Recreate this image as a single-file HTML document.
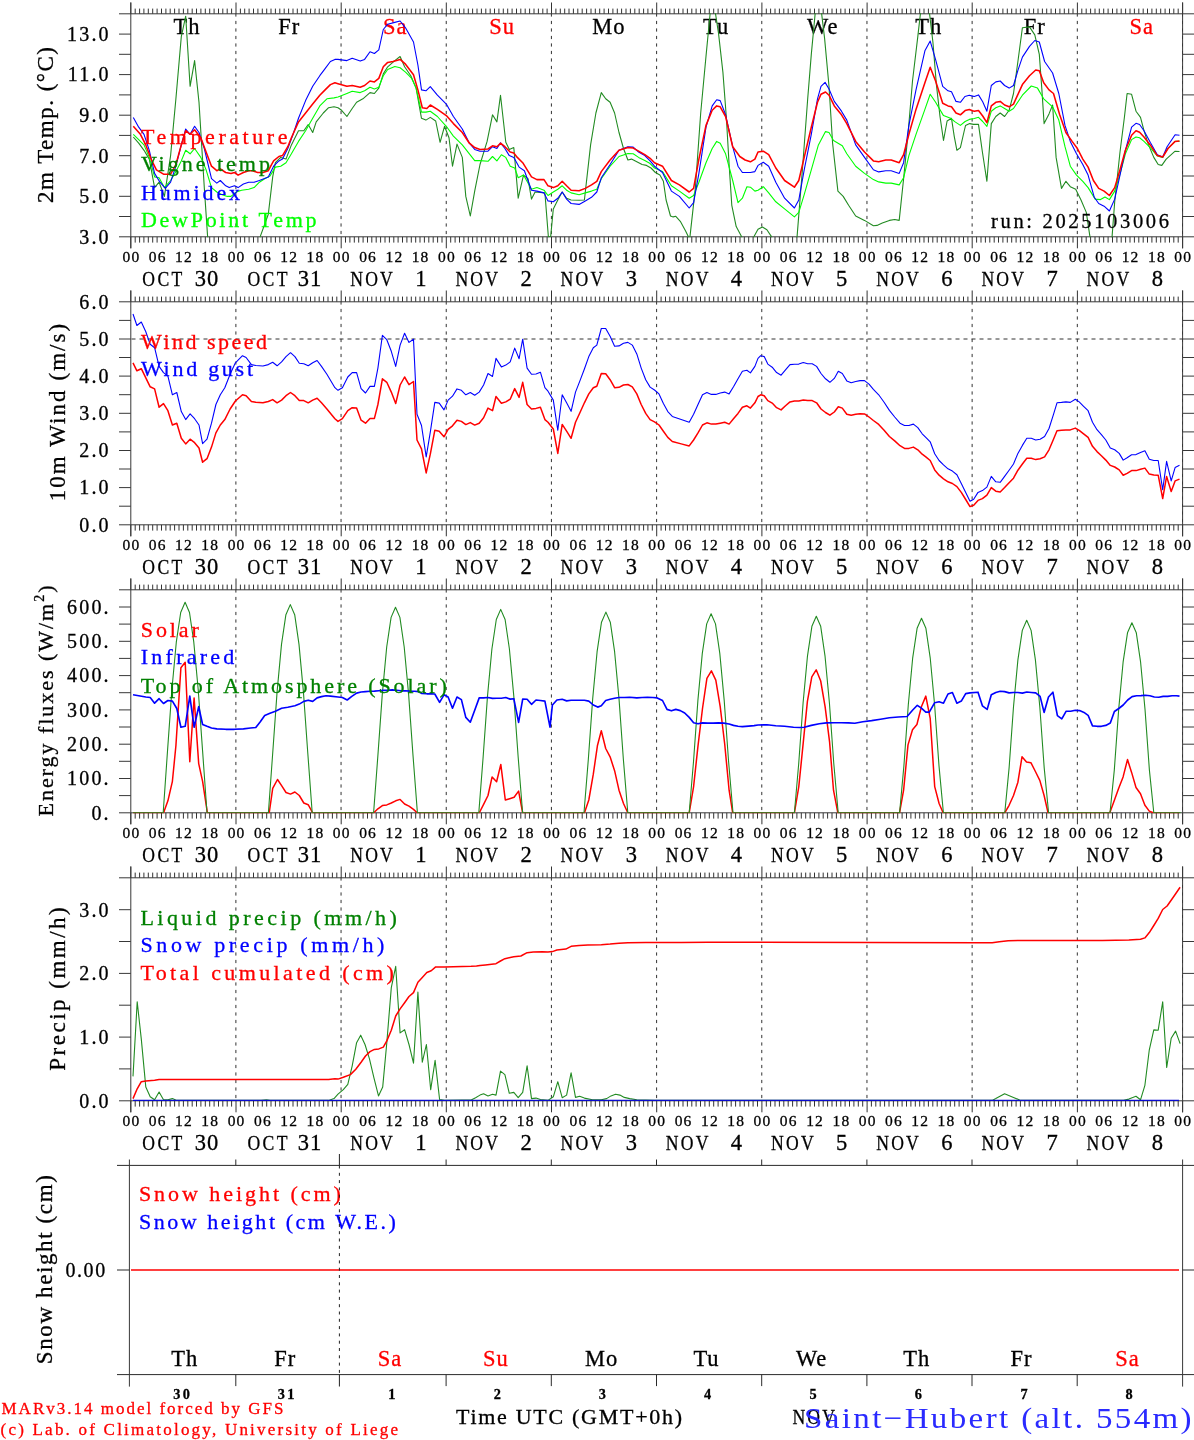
<!DOCTYPE html><html><head><meta charset="utf-8"><style>html,body{margin:0;padding:0;background:#fff;}svg{display:block;}text{font-family:'Liberation Serif', 'DejaVu Serif', serif;white-space:pre;stroke-width:0.3px;paint-order:stroke;}</style></head><body>
<svg width="1194" height="1440" viewBox="0 0 1194 1440">
<rect width="1194" height="1440" fill="#fff"/>
<defs>
<clipPath id="c0"><rect x="130.5" y="13.3" width="1052.0" height="224.0"/></clipPath>
<clipPath id="c1"><rect x="130.5" y="301.3" width="1052.0" height="224.0"/></clipPath>
<clipPath id="c2"><rect x="130.5" y="589.3" width="1052.0" height="224.0"/></clipPath>
<clipPath id="c3"><rect x="130.5" y="877.3" width="1052.0" height="224.0"/></clipPath>
</defs>
<line x1="235.88" y1="13.4" x2="235.88" y2="236.8" stroke="#333" stroke-width="1" stroke-dasharray="3.2 4.3"/>
<line x1="341.06" y1="13.4" x2="341.06" y2="236.8" stroke="#333" stroke-width="1" stroke-dasharray="3.2 4.3"/>
<line x1="446.24" y1="13.4" x2="446.24" y2="236.8" stroke="#333" stroke-width="1" stroke-dasharray="3.2 4.3"/>
<line x1="551.42" y1="13.4" x2="551.42" y2="236.8" stroke="#333" stroke-width="1" stroke-dasharray="3.2 4.3"/>
<line x1="656.60" y1="13.4" x2="656.60" y2="236.8" stroke="#333" stroke-width="1" stroke-dasharray="3.2 4.3"/>
<line x1="761.78" y1="13.4" x2="761.78" y2="236.8" stroke="#333" stroke-width="1" stroke-dasharray="3.2 4.3"/>
<line x1="866.96" y1="13.4" x2="866.96" y2="236.8" stroke="#333" stroke-width="1" stroke-dasharray="3.2 4.3"/>
<line x1="972.14" y1="13.4" x2="972.14" y2="236.8" stroke="#333" stroke-width="1" stroke-dasharray="3.2 4.3"/>
<line x1="1077.32" y1="13.4" x2="1077.32" y2="236.8" stroke="#333" stroke-width="1" stroke-dasharray="3.2 4.3"/>
<line x1="1182.50" y1="13.4" x2="1182.50" y2="236.8" stroke="#333" stroke-width="1" stroke-dasharray="3.2 4.3"/>
<path d="M130.8 2.5V13.8M135.2 8.6V13.8M139.6 8.6V13.8M143.9 8.6V13.8M148.3 8.6V13.8M152.7 8.6V13.8M157.1 8.6V13.8M161.5 8.6V13.8M165.9 8.6V13.8M170.2 8.6V13.8M174.6 8.6V13.8M179.0 8.6V13.8M183.4 8.6V13.8M187.8 8.6V13.8M192.2 8.6V13.8M196.5 8.6V13.8M200.9 8.6V13.8M205.3 8.6V13.8M209.7 8.6V13.8M214.1 8.6V13.8M218.5 8.6V13.8M222.8 8.6V13.8M227.2 8.6V13.8M231.6 8.6V13.8M236.0 2.5V13.8M240.4 8.6V13.8M244.7 8.6V13.8M249.1 8.6V13.8M253.5 8.6V13.8M257.9 8.6V13.8M262.3 8.6V13.8M266.7 8.6V13.8M271.0 8.6V13.8M275.4 8.6V13.8M279.8 8.6V13.8M284.2 8.6V13.8M288.6 8.6V13.8M293.0 8.6V13.8M297.3 8.6V13.8M301.7 8.6V13.8M306.1 8.6V13.8M310.5 8.6V13.8M314.9 8.6V13.8M319.2 8.6V13.8M323.6 8.6V13.8M328.0 8.6V13.8M332.4 8.6V13.8M336.8 8.6V13.8M341.2 2.5V13.8M345.5 8.6V13.8M349.9 8.6V13.8M354.3 8.6V13.8M358.7 8.6V13.8M363.1 8.6V13.8M367.5 8.6V13.8M371.8 8.6V13.8M376.2 8.6V13.8M380.6 8.6V13.8M385.0 8.6V13.8M389.4 8.6V13.8M393.8 8.6V13.8M398.1 8.6V13.8M402.5 8.6V13.8M406.9 8.6V13.8M411.3 8.6V13.8M415.7 8.6V13.8M420.0 8.6V13.8M424.4 8.6V13.8M428.8 8.6V13.8M433.2 8.6V13.8M437.6 8.6V13.8M442.0 8.6V13.8M446.3 2.5V13.8M450.7 8.6V13.8M455.1 8.6V13.8M459.5 8.6V13.8M463.9 8.6V13.8M468.3 8.6V13.8M472.6 8.6V13.8M477.0 8.6V13.8M481.4 8.6V13.8M485.8 8.6V13.8M490.2 8.6V13.8M494.5 8.6V13.8M498.9 8.6V13.8M503.3 8.6V13.8M507.7 8.6V13.8M512.1 8.6V13.8M516.5 8.6V13.8M520.8 8.6V13.8M525.2 8.6V13.8M529.6 8.6V13.8M534.0 8.6V13.8M538.4 8.6V13.8M542.8 8.6V13.8M547.1 8.6V13.8M551.5 2.5V13.8M555.9 8.6V13.8M560.3 8.6V13.8M564.7 8.6V13.8M569.0 8.6V13.8M573.4 8.6V13.8M577.8 8.6V13.8M582.2 8.6V13.8M586.6 8.6V13.8M591.0 8.6V13.8M595.3 8.6V13.8M599.7 8.6V13.8M604.1 8.6V13.8M608.5 8.6V13.8M612.9 8.6V13.8M617.3 8.6V13.8M621.6 8.6V13.8M626.0 8.6V13.8M630.4 8.6V13.8M634.8 8.6V13.8M639.2 8.6V13.8M643.6 8.6V13.8M647.9 8.6V13.8M652.3 8.6V13.8M656.7 2.5V13.8M661.1 8.6V13.8M665.5 8.6V13.8M669.8 8.6V13.8M674.2 8.6V13.8M678.6 8.6V13.8M683.0 8.6V13.8M687.4 8.6V13.8M691.8 8.6V13.8M696.1 8.6V13.8M700.5 8.6V13.8M704.9 8.6V13.8M709.3 8.6V13.8M713.7 8.6V13.8M718.1 8.6V13.8M722.4 8.6V13.8M726.8 8.6V13.8M731.2 8.6V13.8M735.6 8.6V13.8M740.0 8.6V13.8M744.3 8.6V13.8M748.7 8.6V13.8M753.1 8.6V13.8M757.5 8.6V13.8M761.9 2.5V13.8M766.3 8.6V13.8M770.6 8.6V13.8M775.0 8.6V13.8M779.4 8.6V13.8M783.8 8.6V13.8M788.2 8.6V13.8M792.6 8.6V13.8M796.9 8.6V13.8M801.3 8.6V13.8M805.7 8.6V13.8M810.1 8.6V13.8M814.5 8.6V13.8M818.9 8.6V13.8M823.2 8.6V13.8M827.6 8.6V13.8M832.0 8.6V13.8M836.4 8.6V13.8M840.8 8.6V13.8M845.1 8.6V13.8M849.5 8.6V13.8M853.9 8.6V13.8M858.3 8.6V13.8M862.7 8.6V13.8M867.1 2.5V13.8M871.4 8.6V13.8M875.8 8.6V13.8M880.2 8.6V13.8M884.6 8.6V13.8M889.0 8.6V13.8M893.4 8.6V13.8M897.7 8.6V13.8M902.1 8.6V13.8M906.5 8.6V13.8M910.9 8.6V13.8M915.3 8.6V13.8M919.7 8.6V13.8M924.0 8.6V13.8M928.4 8.6V13.8M932.8 8.6V13.8M937.2 8.6V13.8M941.6 8.6V13.8M945.9 8.6V13.8M950.3 8.6V13.8M954.7 8.6V13.8M959.1 8.6V13.8M963.5 8.6V13.8M967.9 8.6V13.8M972.2 2.5V13.8M976.6 8.6V13.8M981.0 8.6V13.8M985.4 8.6V13.8M989.8 8.6V13.8M994.2 8.6V13.8M998.5 8.6V13.8M1002.9 8.6V13.8M1007.3 8.6V13.8M1011.7 8.6V13.8M1016.1 8.6V13.8M1020.4 8.6V13.8M1024.8 8.6V13.8M1029.2 8.6V13.8M1033.6 8.6V13.8M1038.0 8.6V13.8M1042.4 8.6V13.8M1046.7 8.6V13.8M1051.1 8.6V13.8M1055.5 8.6V13.8M1059.9 8.6V13.8M1064.3 8.6V13.8M1068.7 8.6V13.8M1073.0 8.6V13.8M1077.4 2.5V13.8M1081.8 8.6V13.8M1086.2 8.6V13.8M1090.6 8.6V13.8M1095.0 8.6V13.8M1099.3 8.6V13.8M1103.7 8.6V13.8M1108.1 8.6V13.8M1112.5 8.6V13.8M1116.9 8.6V13.8M1121.2 8.6V13.8M1125.6 8.6V13.8M1130.0 8.6V13.8M1134.4 8.6V13.8M1138.8 8.6V13.8M1143.2 8.6V13.8M1147.5 8.6V13.8M1151.9 8.6V13.8M1156.3 8.6V13.8M1160.7 8.6V13.8M1165.1 8.6V13.8M1169.5 8.6V13.8M1173.8 8.6V13.8M1178.2 8.6V13.8M1182.6 2.5V13.8M130.8 236.8V248.3M135.2 236.8V242.6M139.6 236.8V242.6M143.9 236.8V242.6M148.3 236.8V242.6M152.7 236.8V242.6M157.1 236.8V242.6M161.5 236.8V242.6M165.9 236.8V242.6M170.2 236.8V242.6M174.6 236.8V242.6M179.0 236.8V242.6M183.4 236.8V242.6M187.8 236.8V242.6M192.2 236.8V242.6M196.5 236.8V242.6M200.9 236.8V242.6M205.3 236.8V242.6M209.7 236.8V242.6M214.1 236.8V242.6M218.5 236.8V242.6M222.8 236.8V242.6M227.2 236.8V242.6M231.6 236.8V242.6M236.0 236.8V248.3M240.4 236.8V242.6M244.7 236.8V242.6M249.1 236.8V242.6M253.5 236.8V242.6M257.9 236.8V242.6M262.3 236.8V242.6M266.7 236.8V242.6M271.0 236.8V242.6M275.4 236.8V242.6M279.8 236.8V242.6M284.2 236.8V242.6M288.6 236.8V242.6M293.0 236.8V242.6M297.3 236.8V242.6M301.7 236.8V242.6M306.1 236.8V242.6M310.5 236.8V242.6M314.9 236.8V242.6M319.2 236.8V242.6M323.6 236.8V242.6M328.0 236.8V242.6M332.4 236.8V242.6M336.8 236.8V242.6M341.2 236.8V248.3M345.5 236.8V242.6M349.9 236.8V242.6M354.3 236.8V242.6M358.7 236.8V242.6M363.1 236.8V242.6M367.5 236.8V242.6M371.8 236.8V242.6M376.2 236.8V242.6M380.6 236.8V242.6M385.0 236.8V242.6M389.4 236.8V242.6M393.8 236.8V242.6M398.1 236.8V242.6M402.5 236.8V242.6M406.9 236.8V242.6M411.3 236.8V242.6M415.7 236.8V242.6M420.0 236.8V242.6M424.4 236.8V242.6M428.8 236.8V242.6M433.2 236.8V242.6M437.6 236.8V242.6M442.0 236.8V242.6M446.3 236.8V248.3M450.7 236.8V242.6M455.1 236.8V242.6M459.5 236.8V242.6M463.9 236.8V242.6M468.3 236.8V242.6M472.6 236.8V242.6M477.0 236.8V242.6M481.4 236.8V242.6M485.8 236.8V242.6M490.2 236.8V242.6M494.5 236.8V242.6M498.9 236.8V242.6M503.3 236.8V242.6M507.7 236.8V242.6M512.1 236.8V242.6M516.5 236.8V242.6M520.8 236.8V242.6M525.2 236.8V242.6M529.6 236.8V242.6M534.0 236.8V242.6M538.4 236.8V242.6M542.8 236.8V242.6M547.1 236.8V242.6M551.5 236.8V248.3M555.9 236.8V242.6M560.3 236.8V242.6M564.7 236.8V242.6M569.0 236.8V242.6M573.4 236.8V242.6M577.8 236.8V242.6M582.2 236.8V242.6M586.6 236.8V242.6M591.0 236.8V242.6M595.3 236.8V242.6M599.7 236.8V242.6M604.1 236.8V242.6M608.5 236.8V242.6M612.9 236.8V242.6M617.3 236.8V242.6M621.6 236.8V242.6M626.0 236.8V242.6M630.4 236.8V242.6M634.8 236.8V242.6M639.2 236.8V242.6M643.6 236.8V242.6M647.9 236.8V242.6M652.3 236.8V242.6M656.7 236.8V248.3M661.1 236.8V242.6M665.5 236.8V242.6M669.8 236.8V242.6M674.2 236.8V242.6M678.6 236.8V242.6M683.0 236.8V242.6M687.4 236.8V242.6M691.8 236.8V242.6M696.1 236.8V242.6M700.5 236.8V242.6M704.9 236.8V242.6M709.3 236.8V242.6M713.7 236.8V242.6M718.1 236.8V242.6M722.4 236.8V242.6M726.8 236.8V242.6M731.2 236.8V242.6M735.6 236.8V242.6M740.0 236.8V242.6M744.3 236.8V242.6M748.7 236.8V242.6M753.1 236.8V242.6M757.5 236.8V242.6M761.9 236.8V248.3M766.3 236.8V242.6M770.6 236.8V242.6M775.0 236.8V242.6M779.4 236.8V242.6M783.8 236.8V242.6M788.2 236.8V242.6M792.6 236.8V242.6M796.9 236.8V242.6M801.3 236.8V242.6M805.7 236.8V242.6M810.1 236.8V242.6M814.5 236.8V242.6M818.9 236.8V242.6M823.2 236.8V242.6M827.6 236.8V242.6M832.0 236.8V242.6M836.4 236.8V242.6M840.8 236.8V242.6M845.1 236.8V242.6M849.5 236.8V242.6M853.9 236.8V242.6M858.3 236.8V242.6M862.7 236.8V242.6M867.1 236.8V248.3M871.4 236.8V242.6M875.8 236.8V242.6M880.2 236.8V242.6M884.6 236.8V242.6M889.0 236.8V242.6M893.4 236.8V242.6M897.7 236.8V242.6M902.1 236.8V242.6M906.5 236.8V242.6M910.9 236.8V242.6M915.3 236.8V242.6M919.7 236.8V242.6M924.0 236.8V242.6M928.4 236.8V242.6M932.8 236.8V242.6M937.2 236.8V242.6M941.6 236.8V242.6M945.9 236.8V242.6M950.3 236.8V242.6M954.7 236.8V242.6M959.1 236.8V242.6M963.5 236.8V242.6M967.9 236.8V242.6M972.2 236.8V248.3M976.6 236.8V242.6M981.0 236.8V242.6M985.4 236.8V242.6M989.8 236.8V242.6M994.2 236.8V242.6M998.5 236.8V242.6M1002.9 236.8V242.6M1007.3 236.8V242.6M1011.7 236.8V242.6M1016.1 236.8V242.6M1020.4 236.8V242.6M1024.8 236.8V242.6M1029.2 236.8V242.6M1033.6 236.8V242.6M1038.0 236.8V242.6M1042.4 236.8V242.6M1046.7 236.8V242.6M1051.1 236.8V242.6M1055.5 236.8V242.6M1059.9 236.8V242.6M1064.3 236.8V242.6M1068.7 236.8V242.6M1073.0 236.8V242.6M1077.4 236.8V248.3M1081.8 236.8V242.6M1086.2 236.8V242.6M1090.6 236.8V242.6M1095.0 236.8V242.6M1099.3 236.8V242.6M1103.7 236.8V242.6M1108.1 236.8V242.6M1112.5 236.8V242.6M1116.9 236.8V242.6M1121.2 236.8V242.6M1125.6 236.8V242.6M1130.0 236.8V242.6M1134.4 236.8V242.6M1138.8 236.8V242.6M1143.2 236.8V242.6M1147.5 236.8V242.6M1151.9 236.8V242.6M1156.3 236.8V242.6M1160.7 236.8V242.6M1165.1 236.8V242.6M1169.5 236.8V242.6M1173.8 236.8V242.6M1178.2 236.8V242.6M1182.6 236.8V248.3" stroke="#333" stroke-width="1" fill="none"/>
<path d="M130.8 13.8H1182.6M130.8 236.8H1182.6" stroke="#383838" stroke-width="1" fill="none"/>
<path d="M130.8 2.5V248.3M1182.6 2.5V248.3" stroke="#383838" stroke-width="1" fill="none"/>
<line x1="235.88" y1="301.4" x2="235.88" y2="524.8" stroke="#333" stroke-width="1" stroke-dasharray="3.2 4.3"/>
<line x1="341.06" y1="301.4" x2="341.06" y2="524.8" stroke="#333" stroke-width="1" stroke-dasharray="3.2 4.3"/>
<line x1="446.24" y1="301.4" x2="446.24" y2="524.8" stroke="#333" stroke-width="1" stroke-dasharray="3.2 4.3"/>
<line x1="551.42" y1="301.4" x2="551.42" y2="524.8" stroke="#333" stroke-width="1" stroke-dasharray="3.2 4.3"/>
<line x1="656.60" y1="301.4" x2="656.60" y2="524.8" stroke="#333" stroke-width="1" stroke-dasharray="3.2 4.3"/>
<line x1="761.78" y1="301.4" x2="761.78" y2="524.8" stroke="#333" stroke-width="1" stroke-dasharray="3.2 4.3"/>
<line x1="866.96" y1="301.4" x2="866.96" y2="524.8" stroke="#333" stroke-width="1" stroke-dasharray="3.2 4.3"/>
<line x1="972.14" y1="301.4" x2="972.14" y2="524.8" stroke="#333" stroke-width="1" stroke-dasharray="3.2 4.3"/>
<line x1="1077.32" y1="301.4" x2="1077.32" y2="524.8" stroke="#333" stroke-width="1" stroke-dasharray="3.2 4.3"/>
<line x1="1182.50" y1="301.4" x2="1182.50" y2="524.8" stroke="#333" stroke-width="1" stroke-dasharray="3.2 4.3"/>
<path d="M130.8 290.5V301.8M135.2 296.6V301.8M139.6 296.6V301.8M143.9 296.6V301.8M148.3 296.6V301.8M152.7 296.6V301.8M157.1 296.6V301.8M161.5 296.6V301.8M165.9 296.6V301.8M170.2 296.6V301.8M174.6 296.6V301.8M179.0 296.6V301.8M183.4 296.6V301.8M187.8 296.6V301.8M192.2 296.6V301.8M196.5 296.6V301.8M200.9 296.6V301.8M205.3 296.6V301.8M209.7 296.6V301.8M214.1 296.6V301.8M218.5 296.6V301.8M222.8 296.6V301.8M227.2 296.6V301.8M231.6 296.6V301.8M236.0 290.5V301.8M240.4 296.6V301.8M244.7 296.6V301.8M249.1 296.6V301.8M253.5 296.6V301.8M257.9 296.6V301.8M262.3 296.6V301.8M266.7 296.6V301.8M271.0 296.6V301.8M275.4 296.6V301.8M279.8 296.6V301.8M284.2 296.6V301.8M288.6 296.6V301.8M293.0 296.6V301.8M297.3 296.6V301.8M301.7 296.6V301.8M306.1 296.6V301.8M310.5 296.6V301.8M314.9 296.6V301.8M319.2 296.6V301.8M323.6 296.6V301.8M328.0 296.6V301.8M332.4 296.6V301.8M336.8 296.6V301.8M341.2 290.5V301.8M345.5 296.6V301.8M349.9 296.6V301.8M354.3 296.6V301.8M358.7 296.6V301.8M363.1 296.6V301.8M367.5 296.6V301.8M371.8 296.6V301.8M376.2 296.6V301.8M380.6 296.6V301.8M385.0 296.6V301.8M389.4 296.6V301.8M393.8 296.6V301.8M398.1 296.6V301.8M402.5 296.6V301.8M406.9 296.6V301.8M411.3 296.6V301.8M415.7 296.6V301.8M420.0 296.6V301.8M424.4 296.6V301.8M428.8 296.6V301.8M433.2 296.6V301.8M437.6 296.6V301.8M442.0 296.6V301.8M446.3 290.5V301.8M450.7 296.6V301.8M455.1 296.6V301.8M459.5 296.6V301.8M463.9 296.6V301.8M468.3 296.6V301.8M472.6 296.6V301.8M477.0 296.6V301.8M481.4 296.6V301.8M485.8 296.6V301.8M490.2 296.6V301.8M494.5 296.6V301.8M498.9 296.6V301.8M503.3 296.6V301.8M507.7 296.6V301.8M512.1 296.6V301.8M516.5 296.6V301.8M520.8 296.6V301.8M525.2 296.6V301.8M529.6 296.6V301.8M534.0 296.6V301.8M538.4 296.6V301.8M542.8 296.6V301.8M547.1 296.6V301.8M551.5 290.5V301.8M555.9 296.6V301.8M560.3 296.6V301.8M564.7 296.6V301.8M569.0 296.6V301.8M573.4 296.6V301.8M577.8 296.6V301.8M582.2 296.6V301.8M586.6 296.6V301.8M591.0 296.6V301.8M595.3 296.6V301.8M599.7 296.6V301.8M604.1 296.6V301.8M608.5 296.6V301.8M612.9 296.6V301.8M617.3 296.6V301.8M621.6 296.6V301.8M626.0 296.6V301.8M630.4 296.6V301.8M634.8 296.6V301.8M639.2 296.6V301.8M643.6 296.6V301.8M647.9 296.6V301.8M652.3 296.6V301.8M656.7 290.5V301.8M661.1 296.6V301.8M665.5 296.6V301.8M669.8 296.6V301.8M674.2 296.6V301.8M678.6 296.6V301.8M683.0 296.6V301.8M687.4 296.6V301.8M691.8 296.6V301.8M696.1 296.6V301.8M700.5 296.6V301.8M704.9 296.6V301.8M709.3 296.6V301.8M713.7 296.6V301.8M718.1 296.6V301.8M722.4 296.6V301.8M726.8 296.6V301.8M731.2 296.6V301.8M735.6 296.6V301.8M740.0 296.6V301.8M744.3 296.6V301.8M748.7 296.6V301.8M753.1 296.6V301.8M757.5 296.6V301.8M761.9 290.5V301.8M766.3 296.6V301.8M770.6 296.6V301.8M775.0 296.6V301.8M779.4 296.6V301.8M783.8 296.6V301.8M788.2 296.6V301.8M792.6 296.6V301.8M796.9 296.6V301.8M801.3 296.6V301.8M805.7 296.6V301.8M810.1 296.6V301.8M814.5 296.6V301.8M818.9 296.6V301.8M823.2 296.6V301.8M827.6 296.6V301.8M832.0 296.6V301.8M836.4 296.6V301.8M840.8 296.6V301.8M845.1 296.6V301.8M849.5 296.6V301.8M853.9 296.6V301.8M858.3 296.6V301.8M862.7 296.6V301.8M867.1 290.5V301.8M871.4 296.6V301.8M875.8 296.6V301.8M880.2 296.6V301.8M884.6 296.6V301.8M889.0 296.6V301.8M893.4 296.6V301.8M897.7 296.6V301.8M902.1 296.6V301.8M906.5 296.6V301.8M910.9 296.6V301.8M915.3 296.6V301.8M919.7 296.6V301.8M924.0 296.6V301.8M928.4 296.6V301.8M932.8 296.6V301.8M937.2 296.6V301.8M941.6 296.6V301.8M945.9 296.6V301.8M950.3 296.6V301.8M954.7 296.6V301.8M959.1 296.6V301.8M963.5 296.6V301.8M967.9 296.6V301.8M972.2 290.5V301.8M976.6 296.6V301.8M981.0 296.6V301.8M985.4 296.6V301.8M989.8 296.6V301.8M994.2 296.6V301.8M998.5 296.6V301.8M1002.9 296.6V301.8M1007.3 296.6V301.8M1011.7 296.6V301.8M1016.1 296.6V301.8M1020.4 296.6V301.8M1024.8 296.6V301.8M1029.2 296.6V301.8M1033.6 296.6V301.8M1038.0 296.6V301.8M1042.4 296.6V301.8M1046.7 296.6V301.8M1051.1 296.6V301.8M1055.5 296.6V301.8M1059.9 296.6V301.8M1064.3 296.6V301.8M1068.7 296.6V301.8M1073.0 296.6V301.8M1077.4 290.5V301.8M1081.8 296.6V301.8M1086.2 296.6V301.8M1090.6 296.6V301.8M1095.0 296.6V301.8M1099.3 296.6V301.8M1103.7 296.6V301.8M1108.1 296.6V301.8M1112.5 296.6V301.8M1116.9 296.6V301.8M1121.2 296.6V301.8M1125.6 296.6V301.8M1130.0 296.6V301.8M1134.4 296.6V301.8M1138.8 296.6V301.8M1143.2 296.6V301.8M1147.5 296.6V301.8M1151.9 296.6V301.8M1156.3 296.6V301.8M1160.7 296.6V301.8M1165.1 296.6V301.8M1169.5 296.6V301.8M1173.8 296.6V301.8M1178.2 296.6V301.8M1182.6 290.5V301.8M130.8 524.8V536.3M135.2 524.8V530.6M139.6 524.8V530.6M143.9 524.8V530.6M148.3 524.8V530.6M152.7 524.8V530.6M157.1 524.8V530.6M161.5 524.8V530.6M165.9 524.8V530.6M170.2 524.8V530.6M174.6 524.8V530.6M179.0 524.8V530.6M183.4 524.8V530.6M187.8 524.8V530.6M192.2 524.8V530.6M196.5 524.8V530.6M200.9 524.8V530.6M205.3 524.8V530.6M209.7 524.8V530.6M214.1 524.8V530.6M218.5 524.8V530.6M222.8 524.8V530.6M227.2 524.8V530.6M231.6 524.8V530.6M236.0 524.8V536.3M240.4 524.8V530.6M244.7 524.8V530.6M249.1 524.8V530.6M253.5 524.8V530.6M257.9 524.8V530.6M262.3 524.8V530.6M266.7 524.8V530.6M271.0 524.8V530.6M275.4 524.8V530.6M279.8 524.8V530.6M284.2 524.8V530.6M288.6 524.8V530.6M293.0 524.8V530.6M297.3 524.8V530.6M301.7 524.8V530.6M306.1 524.8V530.6M310.5 524.8V530.6M314.9 524.8V530.6M319.2 524.8V530.6M323.6 524.8V530.6M328.0 524.8V530.6M332.4 524.8V530.6M336.8 524.8V530.6M341.2 524.8V536.3M345.5 524.8V530.6M349.9 524.8V530.6M354.3 524.8V530.6M358.7 524.8V530.6M363.1 524.8V530.6M367.5 524.8V530.6M371.8 524.8V530.6M376.2 524.8V530.6M380.6 524.8V530.6M385.0 524.8V530.6M389.4 524.8V530.6M393.8 524.8V530.6M398.1 524.8V530.6M402.5 524.8V530.6M406.9 524.8V530.6M411.3 524.8V530.6M415.7 524.8V530.6M420.0 524.8V530.6M424.4 524.8V530.6M428.8 524.8V530.6M433.2 524.8V530.6M437.6 524.8V530.6M442.0 524.8V530.6M446.3 524.8V536.3M450.7 524.8V530.6M455.1 524.8V530.6M459.5 524.8V530.6M463.9 524.8V530.6M468.3 524.8V530.6M472.6 524.8V530.6M477.0 524.8V530.6M481.4 524.8V530.6M485.8 524.8V530.6M490.2 524.8V530.6M494.5 524.8V530.6M498.9 524.8V530.6M503.3 524.8V530.6M507.7 524.8V530.6M512.1 524.8V530.6M516.5 524.8V530.6M520.8 524.8V530.6M525.2 524.8V530.6M529.6 524.8V530.6M534.0 524.8V530.6M538.4 524.8V530.6M542.8 524.8V530.6M547.1 524.8V530.6M551.5 524.8V536.3M555.9 524.8V530.6M560.3 524.8V530.6M564.7 524.8V530.6M569.0 524.8V530.6M573.4 524.8V530.6M577.8 524.8V530.6M582.2 524.8V530.6M586.6 524.8V530.6M591.0 524.8V530.6M595.3 524.8V530.6M599.7 524.8V530.6M604.1 524.8V530.6M608.5 524.8V530.6M612.9 524.8V530.6M617.3 524.8V530.6M621.6 524.8V530.6M626.0 524.8V530.6M630.4 524.8V530.6M634.8 524.8V530.6M639.2 524.8V530.6M643.6 524.8V530.6M647.9 524.8V530.6M652.3 524.8V530.6M656.7 524.8V536.3M661.1 524.8V530.6M665.5 524.8V530.6M669.8 524.8V530.6M674.2 524.8V530.6M678.6 524.8V530.6M683.0 524.8V530.6M687.4 524.8V530.6M691.8 524.8V530.6M696.1 524.8V530.6M700.5 524.8V530.6M704.9 524.8V530.6M709.3 524.8V530.6M713.7 524.8V530.6M718.1 524.8V530.6M722.4 524.8V530.6M726.8 524.8V530.6M731.2 524.8V530.6M735.6 524.8V530.6M740.0 524.8V530.6M744.3 524.8V530.6M748.7 524.8V530.6M753.1 524.8V530.6M757.5 524.8V530.6M761.9 524.8V536.3M766.3 524.8V530.6M770.6 524.8V530.6M775.0 524.8V530.6M779.4 524.8V530.6M783.8 524.8V530.6M788.2 524.8V530.6M792.6 524.8V530.6M796.9 524.8V530.6M801.3 524.8V530.6M805.7 524.8V530.6M810.1 524.8V530.6M814.5 524.8V530.6M818.9 524.8V530.6M823.2 524.8V530.6M827.6 524.8V530.6M832.0 524.8V530.6M836.4 524.8V530.6M840.8 524.8V530.6M845.1 524.8V530.6M849.5 524.8V530.6M853.9 524.8V530.6M858.3 524.8V530.6M862.7 524.8V530.6M867.1 524.8V536.3M871.4 524.8V530.6M875.8 524.8V530.6M880.2 524.8V530.6M884.6 524.8V530.6M889.0 524.8V530.6M893.4 524.8V530.6M897.7 524.8V530.6M902.1 524.8V530.6M906.5 524.8V530.6M910.9 524.8V530.6M915.3 524.8V530.6M919.7 524.8V530.6M924.0 524.8V530.6M928.4 524.8V530.6M932.8 524.8V530.6M937.2 524.8V530.6M941.6 524.8V530.6M945.9 524.8V530.6M950.3 524.8V530.6M954.7 524.8V530.6M959.1 524.8V530.6M963.5 524.8V530.6M967.9 524.8V530.6M972.2 524.8V536.3M976.6 524.8V530.6M981.0 524.8V530.6M985.4 524.8V530.6M989.8 524.8V530.6M994.2 524.8V530.6M998.5 524.8V530.6M1002.9 524.8V530.6M1007.3 524.8V530.6M1011.7 524.8V530.6M1016.1 524.8V530.6M1020.4 524.8V530.6M1024.8 524.8V530.6M1029.2 524.8V530.6M1033.6 524.8V530.6M1038.0 524.8V530.6M1042.4 524.8V530.6M1046.7 524.8V530.6M1051.1 524.8V530.6M1055.5 524.8V530.6M1059.9 524.8V530.6M1064.3 524.8V530.6M1068.7 524.8V530.6M1073.0 524.8V530.6M1077.4 524.8V536.3M1081.8 524.8V530.6M1086.2 524.8V530.6M1090.6 524.8V530.6M1095.0 524.8V530.6M1099.3 524.8V530.6M1103.7 524.8V530.6M1108.1 524.8V530.6M1112.5 524.8V530.6M1116.9 524.8V530.6M1121.2 524.8V530.6M1125.6 524.8V530.6M1130.0 524.8V530.6M1134.4 524.8V530.6M1138.8 524.8V530.6M1143.2 524.8V530.6M1147.5 524.8V530.6M1151.9 524.8V530.6M1156.3 524.8V530.6M1160.7 524.8V530.6M1165.1 524.8V530.6M1169.5 524.8V530.6M1173.8 524.8V530.6M1178.2 524.8V530.6M1182.6 524.8V536.3" stroke="#333" stroke-width="1" fill="none"/>
<path d="M130.8 301.8H1182.6M130.8 524.8H1182.6" stroke="#383838" stroke-width="1" fill="none"/>
<path d="M130.8 290.5V536.3M1182.6 290.5V536.3" stroke="#383838" stroke-width="1" fill="none"/>
<line x1="235.88" y1="589.4" x2="235.88" y2="812.8" stroke="#333" stroke-width="1" stroke-dasharray="3.2 4.3"/>
<line x1="341.06" y1="589.4" x2="341.06" y2="812.8" stroke="#333" stroke-width="1" stroke-dasharray="3.2 4.3"/>
<line x1="446.24" y1="589.4" x2="446.24" y2="812.8" stroke="#333" stroke-width="1" stroke-dasharray="3.2 4.3"/>
<line x1="551.42" y1="589.4" x2="551.42" y2="812.8" stroke="#333" stroke-width="1" stroke-dasharray="3.2 4.3"/>
<line x1="656.60" y1="589.4" x2="656.60" y2="812.8" stroke="#333" stroke-width="1" stroke-dasharray="3.2 4.3"/>
<line x1="761.78" y1="589.4" x2="761.78" y2="812.8" stroke="#333" stroke-width="1" stroke-dasharray="3.2 4.3"/>
<line x1="866.96" y1="589.4" x2="866.96" y2="812.8" stroke="#333" stroke-width="1" stroke-dasharray="3.2 4.3"/>
<line x1="972.14" y1="589.4" x2="972.14" y2="812.8" stroke="#333" stroke-width="1" stroke-dasharray="3.2 4.3"/>
<line x1="1077.32" y1="589.4" x2="1077.32" y2="812.8" stroke="#333" stroke-width="1" stroke-dasharray="3.2 4.3"/>
<line x1="1182.50" y1="589.4" x2="1182.50" y2="812.8" stroke="#333" stroke-width="1" stroke-dasharray="3.2 4.3"/>
<path d="M130.8 578.5V589.8M135.2 584.6V589.8M139.6 584.6V589.8M143.9 584.6V589.8M148.3 584.6V589.8M152.7 584.6V589.8M157.1 584.6V589.8M161.5 584.6V589.8M165.9 584.6V589.8M170.2 584.6V589.8M174.6 584.6V589.8M179.0 584.6V589.8M183.4 584.6V589.8M187.8 584.6V589.8M192.2 584.6V589.8M196.5 584.6V589.8M200.9 584.6V589.8M205.3 584.6V589.8M209.7 584.6V589.8M214.1 584.6V589.8M218.5 584.6V589.8M222.8 584.6V589.8M227.2 584.6V589.8M231.6 584.6V589.8M236.0 578.5V589.8M240.4 584.6V589.8M244.7 584.6V589.8M249.1 584.6V589.8M253.5 584.6V589.8M257.9 584.6V589.8M262.3 584.6V589.8M266.7 584.6V589.8M271.0 584.6V589.8M275.4 584.6V589.8M279.8 584.6V589.8M284.2 584.6V589.8M288.6 584.6V589.8M293.0 584.6V589.8M297.3 584.6V589.8M301.7 584.6V589.8M306.1 584.6V589.8M310.5 584.6V589.8M314.9 584.6V589.8M319.2 584.6V589.8M323.6 584.6V589.8M328.0 584.6V589.8M332.4 584.6V589.8M336.8 584.6V589.8M341.2 578.5V589.8M345.5 584.6V589.8M349.9 584.6V589.8M354.3 584.6V589.8M358.7 584.6V589.8M363.1 584.6V589.8M367.5 584.6V589.8M371.8 584.6V589.8M376.2 584.6V589.8M380.6 584.6V589.8M385.0 584.6V589.8M389.4 584.6V589.8M393.8 584.6V589.8M398.1 584.6V589.8M402.5 584.6V589.8M406.9 584.6V589.8M411.3 584.6V589.8M415.7 584.6V589.8M420.0 584.6V589.8M424.4 584.6V589.8M428.8 584.6V589.8M433.2 584.6V589.8M437.6 584.6V589.8M442.0 584.6V589.8M446.3 578.5V589.8M450.7 584.6V589.8M455.1 584.6V589.8M459.5 584.6V589.8M463.9 584.6V589.8M468.3 584.6V589.8M472.6 584.6V589.8M477.0 584.6V589.8M481.4 584.6V589.8M485.8 584.6V589.8M490.2 584.6V589.8M494.5 584.6V589.8M498.9 584.6V589.8M503.3 584.6V589.8M507.7 584.6V589.8M512.1 584.6V589.8M516.5 584.6V589.8M520.8 584.6V589.8M525.2 584.6V589.8M529.6 584.6V589.8M534.0 584.6V589.8M538.4 584.6V589.8M542.8 584.6V589.8M547.1 584.6V589.8M551.5 578.5V589.8M555.9 584.6V589.8M560.3 584.6V589.8M564.7 584.6V589.8M569.0 584.6V589.8M573.4 584.6V589.8M577.8 584.6V589.8M582.2 584.6V589.8M586.6 584.6V589.8M591.0 584.6V589.8M595.3 584.6V589.8M599.7 584.6V589.8M604.1 584.6V589.8M608.5 584.6V589.8M612.9 584.6V589.8M617.3 584.6V589.8M621.6 584.6V589.8M626.0 584.6V589.8M630.4 584.6V589.8M634.8 584.6V589.8M639.2 584.6V589.8M643.6 584.6V589.8M647.9 584.6V589.8M652.3 584.6V589.8M656.7 578.5V589.8M661.1 584.6V589.8M665.5 584.6V589.8M669.8 584.6V589.8M674.2 584.6V589.8M678.6 584.6V589.8M683.0 584.6V589.8M687.4 584.6V589.8M691.8 584.6V589.8M696.1 584.6V589.8M700.5 584.6V589.8M704.9 584.6V589.8M709.3 584.6V589.8M713.7 584.6V589.8M718.1 584.6V589.8M722.4 584.6V589.8M726.8 584.6V589.8M731.2 584.6V589.8M735.6 584.6V589.8M740.0 584.6V589.8M744.3 584.6V589.8M748.7 584.6V589.8M753.1 584.6V589.8M757.5 584.6V589.8M761.9 578.5V589.8M766.3 584.6V589.8M770.6 584.6V589.8M775.0 584.6V589.8M779.4 584.6V589.8M783.8 584.6V589.8M788.2 584.6V589.8M792.6 584.6V589.8M796.9 584.6V589.8M801.3 584.6V589.8M805.7 584.6V589.8M810.1 584.6V589.8M814.5 584.6V589.8M818.9 584.6V589.8M823.2 584.6V589.8M827.6 584.6V589.8M832.0 584.6V589.8M836.4 584.6V589.8M840.8 584.6V589.8M845.1 584.6V589.8M849.5 584.6V589.8M853.9 584.6V589.8M858.3 584.6V589.8M862.7 584.6V589.8M867.1 578.5V589.8M871.4 584.6V589.8M875.8 584.6V589.8M880.2 584.6V589.8M884.6 584.6V589.8M889.0 584.6V589.8M893.4 584.6V589.8M897.7 584.6V589.8M902.1 584.6V589.8M906.5 584.6V589.8M910.9 584.6V589.8M915.3 584.6V589.8M919.7 584.6V589.8M924.0 584.6V589.8M928.4 584.6V589.8M932.8 584.6V589.8M937.2 584.6V589.8M941.6 584.6V589.8M945.9 584.6V589.8M950.3 584.6V589.8M954.7 584.6V589.8M959.1 584.6V589.8M963.5 584.6V589.8M967.9 584.6V589.8M972.2 578.5V589.8M976.6 584.6V589.8M981.0 584.6V589.8M985.4 584.6V589.8M989.8 584.6V589.8M994.2 584.6V589.8M998.5 584.6V589.8M1002.9 584.6V589.8M1007.3 584.6V589.8M1011.7 584.6V589.8M1016.1 584.6V589.8M1020.4 584.6V589.8M1024.8 584.6V589.8M1029.2 584.6V589.8M1033.6 584.6V589.8M1038.0 584.6V589.8M1042.4 584.6V589.8M1046.7 584.6V589.8M1051.1 584.6V589.8M1055.5 584.6V589.8M1059.9 584.6V589.8M1064.3 584.6V589.8M1068.7 584.6V589.8M1073.0 584.6V589.8M1077.4 578.5V589.8M1081.8 584.6V589.8M1086.2 584.6V589.8M1090.6 584.6V589.8M1095.0 584.6V589.8M1099.3 584.6V589.8M1103.7 584.6V589.8M1108.1 584.6V589.8M1112.5 584.6V589.8M1116.9 584.6V589.8M1121.2 584.6V589.8M1125.6 584.6V589.8M1130.0 584.6V589.8M1134.4 584.6V589.8M1138.8 584.6V589.8M1143.2 584.6V589.8M1147.5 584.6V589.8M1151.9 584.6V589.8M1156.3 584.6V589.8M1160.7 584.6V589.8M1165.1 584.6V589.8M1169.5 584.6V589.8M1173.8 584.6V589.8M1178.2 584.6V589.8M1182.6 578.5V589.8M130.8 812.8V824.3M135.2 812.8V818.6M139.6 812.8V818.6M143.9 812.8V818.6M148.3 812.8V818.6M152.7 812.8V818.6M157.1 812.8V818.6M161.5 812.8V818.6M165.9 812.8V818.6M170.2 812.8V818.6M174.6 812.8V818.6M179.0 812.8V818.6M183.4 812.8V818.6M187.8 812.8V818.6M192.2 812.8V818.6M196.5 812.8V818.6M200.9 812.8V818.6M205.3 812.8V818.6M209.7 812.8V818.6M214.1 812.8V818.6M218.5 812.8V818.6M222.8 812.8V818.6M227.2 812.8V818.6M231.6 812.8V818.6M236.0 812.8V824.3M240.4 812.8V818.6M244.7 812.8V818.6M249.1 812.8V818.6M253.5 812.8V818.6M257.9 812.8V818.6M262.3 812.8V818.6M266.7 812.8V818.6M271.0 812.8V818.6M275.4 812.8V818.6M279.8 812.8V818.6M284.2 812.8V818.6M288.6 812.8V818.6M293.0 812.8V818.6M297.3 812.8V818.6M301.7 812.8V818.6M306.1 812.8V818.6M310.5 812.8V818.6M314.9 812.8V818.6M319.2 812.8V818.6M323.6 812.8V818.6M328.0 812.8V818.6M332.4 812.8V818.6M336.8 812.8V818.6M341.2 812.8V824.3M345.5 812.8V818.6M349.9 812.8V818.6M354.3 812.8V818.6M358.7 812.8V818.6M363.1 812.8V818.6M367.5 812.8V818.6M371.8 812.8V818.6M376.2 812.8V818.6M380.6 812.8V818.6M385.0 812.8V818.6M389.4 812.8V818.6M393.8 812.8V818.6M398.1 812.8V818.6M402.5 812.8V818.6M406.9 812.8V818.6M411.3 812.8V818.6M415.7 812.8V818.6M420.0 812.8V818.6M424.4 812.8V818.6M428.8 812.8V818.6M433.2 812.8V818.6M437.6 812.8V818.6M442.0 812.8V818.6M446.3 812.8V824.3M450.7 812.8V818.6M455.1 812.8V818.6M459.5 812.8V818.6M463.9 812.8V818.6M468.3 812.8V818.6M472.6 812.8V818.6M477.0 812.8V818.6M481.4 812.8V818.6M485.8 812.8V818.6M490.2 812.8V818.6M494.5 812.8V818.6M498.9 812.8V818.6M503.3 812.8V818.6M507.7 812.8V818.6M512.1 812.8V818.6M516.5 812.8V818.6M520.8 812.8V818.6M525.2 812.8V818.6M529.6 812.8V818.6M534.0 812.8V818.6M538.4 812.8V818.6M542.8 812.8V818.6M547.1 812.8V818.6M551.5 812.8V824.3M555.9 812.8V818.6M560.3 812.8V818.6M564.7 812.8V818.6M569.0 812.8V818.6M573.4 812.8V818.6M577.8 812.8V818.6M582.2 812.8V818.6M586.6 812.8V818.6M591.0 812.8V818.6M595.3 812.8V818.6M599.7 812.8V818.6M604.1 812.8V818.6M608.5 812.8V818.6M612.9 812.8V818.6M617.3 812.8V818.6M621.6 812.8V818.6M626.0 812.8V818.6M630.4 812.8V818.6M634.8 812.8V818.6M639.2 812.8V818.6M643.6 812.8V818.6M647.9 812.8V818.6M652.3 812.8V818.6M656.7 812.8V824.3M661.1 812.8V818.6M665.5 812.8V818.6M669.8 812.8V818.6M674.2 812.8V818.6M678.6 812.8V818.6M683.0 812.8V818.6M687.4 812.8V818.6M691.8 812.8V818.6M696.1 812.8V818.6M700.5 812.8V818.6M704.9 812.8V818.6M709.3 812.8V818.6M713.7 812.8V818.6M718.1 812.8V818.6M722.4 812.8V818.6M726.8 812.8V818.6M731.2 812.8V818.6M735.6 812.8V818.6M740.0 812.8V818.6M744.3 812.8V818.6M748.7 812.8V818.6M753.1 812.8V818.6M757.5 812.8V818.6M761.9 812.8V824.3M766.3 812.8V818.6M770.6 812.8V818.6M775.0 812.8V818.6M779.4 812.8V818.6M783.8 812.8V818.6M788.2 812.8V818.6M792.6 812.8V818.6M796.9 812.8V818.6M801.3 812.8V818.6M805.7 812.8V818.6M810.1 812.8V818.6M814.5 812.8V818.6M818.9 812.8V818.6M823.2 812.8V818.6M827.6 812.8V818.6M832.0 812.8V818.6M836.4 812.8V818.6M840.8 812.8V818.6M845.1 812.8V818.6M849.5 812.8V818.6M853.9 812.8V818.6M858.3 812.8V818.6M862.7 812.8V818.6M867.1 812.8V824.3M871.4 812.8V818.6M875.8 812.8V818.6M880.2 812.8V818.6M884.6 812.8V818.6M889.0 812.8V818.6M893.4 812.8V818.6M897.7 812.8V818.6M902.1 812.8V818.6M906.5 812.8V818.6M910.9 812.8V818.6M915.3 812.8V818.6M919.7 812.8V818.6M924.0 812.8V818.6M928.4 812.8V818.6M932.8 812.8V818.6M937.2 812.8V818.6M941.6 812.8V818.6M945.9 812.8V818.6M950.3 812.8V818.6M954.7 812.8V818.6M959.1 812.8V818.6M963.5 812.8V818.6M967.9 812.8V818.6M972.2 812.8V824.3M976.6 812.8V818.6M981.0 812.8V818.6M985.4 812.8V818.6M989.8 812.8V818.6M994.2 812.8V818.6M998.5 812.8V818.6M1002.9 812.8V818.6M1007.3 812.8V818.6M1011.7 812.8V818.6M1016.1 812.8V818.6M1020.4 812.8V818.6M1024.8 812.8V818.6M1029.2 812.8V818.6M1033.6 812.8V818.6M1038.0 812.8V818.6M1042.4 812.8V818.6M1046.7 812.8V818.6M1051.1 812.8V818.6M1055.5 812.8V818.6M1059.9 812.8V818.6M1064.3 812.8V818.6M1068.7 812.8V818.6M1073.0 812.8V818.6M1077.4 812.8V824.3M1081.8 812.8V818.6M1086.2 812.8V818.6M1090.6 812.8V818.6M1095.0 812.8V818.6M1099.3 812.8V818.6M1103.7 812.8V818.6M1108.1 812.8V818.6M1112.5 812.8V818.6M1116.9 812.8V818.6M1121.2 812.8V818.6M1125.6 812.8V818.6M1130.0 812.8V818.6M1134.4 812.8V818.6M1138.8 812.8V818.6M1143.2 812.8V818.6M1147.5 812.8V818.6M1151.9 812.8V818.6M1156.3 812.8V818.6M1160.7 812.8V818.6M1165.1 812.8V818.6M1169.5 812.8V818.6M1173.8 812.8V818.6M1178.2 812.8V818.6M1182.6 812.8V824.3" stroke="#333" stroke-width="1" fill="none"/>
<path d="M130.8 589.8H1182.6M130.8 812.8H1182.6" stroke="#383838" stroke-width="1" fill="none"/>
<path d="M130.8 578.5V824.3M1182.6 578.5V824.3" stroke="#383838" stroke-width="1" fill="none"/>
<line x1="235.88" y1="877.4" x2="235.88" y2="1100.8" stroke="#333" stroke-width="1" stroke-dasharray="3.2 4.3"/>
<line x1="341.06" y1="877.4" x2="341.06" y2="1100.8" stroke="#333" stroke-width="1" stroke-dasharray="3.2 4.3"/>
<line x1="446.24" y1="877.4" x2="446.24" y2="1100.8" stroke="#333" stroke-width="1" stroke-dasharray="3.2 4.3"/>
<line x1="551.42" y1="877.4" x2="551.42" y2="1100.8" stroke="#333" stroke-width="1" stroke-dasharray="3.2 4.3"/>
<line x1="656.60" y1="877.4" x2="656.60" y2="1100.8" stroke="#333" stroke-width="1" stroke-dasharray="3.2 4.3"/>
<line x1="761.78" y1="877.4" x2="761.78" y2="1100.8" stroke="#333" stroke-width="1" stroke-dasharray="3.2 4.3"/>
<line x1="866.96" y1="877.4" x2="866.96" y2="1100.8" stroke="#333" stroke-width="1" stroke-dasharray="3.2 4.3"/>
<line x1="972.14" y1="877.4" x2="972.14" y2="1100.8" stroke="#333" stroke-width="1" stroke-dasharray="3.2 4.3"/>
<line x1="1077.32" y1="877.4" x2="1077.32" y2="1100.8" stroke="#333" stroke-width="1" stroke-dasharray="3.2 4.3"/>
<line x1="1182.50" y1="877.4" x2="1182.50" y2="1100.8" stroke="#333" stroke-width="1" stroke-dasharray="3.2 4.3"/>
<path d="M130.8 866.5V877.8M135.2 872.6V877.8M139.6 872.6V877.8M143.9 872.6V877.8M148.3 872.6V877.8M152.7 872.6V877.8M157.1 872.6V877.8M161.5 872.6V877.8M165.9 872.6V877.8M170.2 872.6V877.8M174.6 872.6V877.8M179.0 872.6V877.8M183.4 872.6V877.8M187.8 872.6V877.8M192.2 872.6V877.8M196.5 872.6V877.8M200.9 872.6V877.8M205.3 872.6V877.8M209.7 872.6V877.8M214.1 872.6V877.8M218.5 872.6V877.8M222.8 872.6V877.8M227.2 872.6V877.8M231.6 872.6V877.8M236.0 866.5V877.8M240.4 872.6V877.8M244.7 872.6V877.8M249.1 872.6V877.8M253.5 872.6V877.8M257.9 872.6V877.8M262.3 872.6V877.8M266.7 872.6V877.8M271.0 872.6V877.8M275.4 872.6V877.8M279.8 872.6V877.8M284.2 872.6V877.8M288.6 872.6V877.8M293.0 872.6V877.8M297.3 872.6V877.8M301.7 872.6V877.8M306.1 872.6V877.8M310.5 872.6V877.8M314.9 872.6V877.8M319.2 872.6V877.8M323.6 872.6V877.8M328.0 872.6V877.8M332.4 872.6V877.8M336.8 872.6V877.8M341.2 866.5V877.8M345.5 872.6V877.8M349.9 872.6V877.8M354.3 872.6V877.8M358.7 872.6V877.8M363.1 872.6V877.8M367.5 872.6V877.8M371.8 872.6V877.8M376.2 872.6V877.8M380.6 872.6V877.8M385.0 872.6V877.8M389.4 872.6V877.8M393.8 872.6V877.8M398.1 872.6V877.8M402.5 872.6V877.8M406.9 872.6V877.8M411.3 872.6V877.8M415.7 872.6V877.8M420.0 872.6V877.8M424.4 872.6V877.8M428.8 872.6V877.8M433.2 872.6V877.8M437.6 872.6V877.8M442.0 872.6V877.8M446.3 866.5V877.8M450.7 872.6V877.8M455.1 872.6V877.8M459.5 872.6V877.8M463.9 872.6V877.8M468.3 872.6V877.8M472.6 872.6V877.8M477.0 872.6V877.8M481.4 872.6V877.8M485.8 872.6V877.8M490.2 872.6V877.8M494.5 872.6V877.8M498.9 872.6V877.8M503.3 872.6V877.8M507.7 872.6V877.8M512.1 872.6V877.8M516.5 872.6V877.8M520.8 872.6V877.8M525.2 872.6V877.8M529.6 872.6V877.8M534.0 872.6V877.8M538.4 872.6V877.8M542.8 872.6V877.8M547.1 872.6V877.8M551.5 866.5V877.8M555.9 872.6V877.8M560.3 872.6V877.8M564.7 872.6V877.8M569.0 872.6V877.8M573.4 872.6V877.8M577.8 872.6V877.8M582.2 872.6V877.8M586.6 872.6V877.8M591.0 872.6V877.8M595.3 872.6V877.8M599.7 872.6V877.8M604.1 872.6V877.8M608.5 872.6V877.8M612.9 872.6V877.8M617.3 872.6V877.8M621.6 872.6V877.8M626.0 872.6V877.8M630.4 872.6V877.8M634.8 872.6V877.8M639.2 872.6V877.8M643.6 872.6V877.8M647.9 872.6V877.8M652.3 872.6V877.8M656.7 866.5V877.8M661.1 872.6V877.8M665.5 872.6V877.8M669.8 872.6V877.8M674.2 872.6V877.8M678.6 872.6V877.8M683.0 872.6V877.8M687.4 872.6V877.8M691.8 872.6V877.8M696.1 872.6V877.8M700.5 872.6V877.8M704.9 872.6V877.8M709.3 872.6V877.8M713.7 872.6V877.8M718.1 872.6V877.8M722.4 872.6V877.8M726.8 872.6V877.8M731.2 872.6V877.8M735.6 872.6V877.8M740.0 872.6V877.8M744.3 872.6V877.8M748.7 872.6V877.8M753.1 872.6V877.8M757.5 872.6V877.8M761.9 866.5V877.8M766.3 872.6V877.8M770.6 872.6V877.8M775.0 872.6V877.8M779.4 872.6V877.8M783.8 872.6V877.8M788.2 872.6V877.8M792.6 872.6V877.8M796.9 872.6V877.8M801.3 872.6V877.8M805.7 872.6V877.8M810.1 872.6V877.8M814.5 872.6V877.8M818.9 872.6V877.8M823.2 872.6V877.8M827.6 872.6V877.8M832.0 872.6V877.8M836.4 872.6V877.8M840.8 872.6V877.8M845.1 872.6V877.8M849.5 872.6V877.8M853.9 872.6V877.8M858.3 872.6V877.8M862.7 872.6V877.8M867.1 866.5V877.8M871.4 872.6V877.8M875.8 872.6V877.8M880.2 872.6V877.8M884.6 872.6V877.8M889.0 872.6V877.8M893.4 872.6V877.8M897.7 872.6V877.8M902.1 872.6V877.8M906.5 872.6V877.8M910.9 872.6V877.8M915.3 872.6V877.8M919.7 872.6V877.8M924.0 872.6V877.8M928.4 872.6V877.8M932.8 872.6V877.8M937.2 872.6V877.8M941.6 872.6V877.8M945.9 872.6V877.8M950.3 872.6V877.8M954.7 872.6V877.8M959.1 872.6V877.8M963.5 872.6V877.8M967.9 872.6V877.8M972.2 866.5V877.8M976.6 872.6V877.8M981.0 872.6V877.8M985.4 872.6V877.8M989.8 872.6V877.8M994.2 872.6V877.8M998.5 872.6V877.8M1002.9 872.6V877.8M1007.3 872.6V877.8M1011.7 872.6V877.8M1016.1 872.6V877.8M1020.4 872.6V877.8M1024.8 872.6V877.8M1029.2 872.6V877.8M1033.6 872.6V877.8M1038.0 872.6V877.8M1042.4 872.6V877.8M1046.7 872.6V877.8M1051.1 872.6V877.8M1055.5 872.6V877.8M1059.9 872.6V877.8M1064.3 872.6V877.8M1068.7 872.6V877.8M1073.0 872.6V877.8M1077.4 866.5V877.8M1081.8 872.6V877.8M1086.2 872.6V877.8M1090.6 872.6V877.8M1095.0 872.6V877.8M1099.3 872.6V877.8M1103.7 872.6V877.8M1108.1 872.6V877.8M1112.5 872.6V877.8M1116.9 872.6V877.8M1121.2 872.6V877.8M1125.6 872.6V877.8M1130.0 872.6V877.8M1134.4 872.6V877.8M1138.8 872.6V877.8M1143.2 872.6V877.8M1147.5 872.6V877.8M1151.9 872.6V877.8M1156.3 872.6V877.8M1160.7 872.6V877.8M1165.1 872.6V877.8M1169.5 872.6V877.8M1173.8 872.6V877.8M1178.2 872.6V877.8M1182.6 866.5V877.8M130.8 1100.8V1112.3M135.2 1100.8V1106.6M139.6 1100.8V1106.6M143.9 1100.8V1106.6M148.3 1100.8V1106.6M152.7 1100.8V1106.6M157.1 1100.8V1106.6M161.5 1100.8V1106.6M165.9 1100.8V1106.6M170.2 1100.8V1106.6M174.6 1100.8V1106.6M179.0 1100.8V1106.6M183.4 1100.8V1106.6M187.8 1100.8V1106.6M192.2 1100.8V1106.6M196.5 1100.8V1106.6M200.9 1100.8V1106.6M205.3 1100.8V1106.6M209.7 1100.8V1106.6M214.1 1100.8V1106.6M218.5 1100.8V1106.6M222.8 1100.8V1106.6M227.2 1100.8V1106.6M231.6 1100.8V1106.6M236.0 1100.8V1112.3M240.4 1100.8V1106.6M244.7 1100.8V1106.6M249.1 1100.8V1106.6M253.5 1100.8V1106.6M257.9 1100.8V1106.6M262.3 1100.8V1106.6M266.7 1100.8V1106.6M271.0 1100.8V1106.6M275.4 1100.8V1106.6M279.8 1100.8V1106.6M284.2 1100.8V1106.6M288.6 1100.8V1106.6M293.0 1100.8V1106.6M297.3 1100.8V1106.6M301.7 1100.8V1106.6M306.1 1100.8V1106.6M310.5 1100.8V1106.6M314.9 1100.8V1106.6M319.2 1100.8V1106.6M323.6 1100.8V1106.6M328.0 1100.8V1106.6M332.4 1100.8V1106.6M336.8 1100.8V1106.6M341.2 1100.8V1112.3M345.5 1100.8V1106.6M349.9 1100.8V1106.6M354.3 1100.8V1106.6M358.7 1100.8V1106.6M363.1 1100.8V1106.6M367.5 1100.8V1106.6M371.8 1100.8V1106.6M376.2 1100.8V1106.6M380.6 1100.8V1106.6M385.0 1100.8V1106.6M389.4 1100.8V1106.6M393.8 1100.8V1106.6M398.1 1100.8V1106.6M402.5 1100.8V1106.6M406.9 1100.8V1106.6M411.3 1100.8V1106.6M415.7 1100.8V1106.6M420.0 1100.8V1106.6M424.4 1100.8V1106.6M428.8 1100.8V1106.6M433.2 1100.8V1106.6M437.6 1100.8V1106.6M442.0 1100.8V1106.6M446.3 1100.8V1112.3M450.7 1100.8V1106.6M455.1 1100.8V1106.6M459.5 1100.8V1106.6M463.9 1100.8V1106.6M468.3 1100.8V1106.6M472.6 1100.8V1106.6M477.0 1100.8V1106.6M481.4 1100.8V1106.6M485.8 1100.8V1106.6M490.2 1100.8V1106.6M494.5 1100.8V1106.6M498.9 1100.8V1106.6M503.3 1100.8V1106.6M507.7 1100.8V1106.6M512.1 1100.8V1106.6M516.5 1100.8V1106.6M520.8 1100.8V1106.6M525.2 1100.8V1106.6M529.6 1100.8V1106.6M534.0 1100.8V1106.6M538.4 1100.8V1106.6M542.8 1100.8V1106.6M547.1 1100.8V1106.6M551.5 1100.8V1112.3M555.9 1100.8V1106.6M560.3 1100.8V1106.6M564.7 1100.8V1106.6M569.0 1100.8V1106.6M573.4 1100.8V1106.6M577.8 1100.8V1106.6M582.2 1100.8V1106.6M586.6 1100.8V1106.6M591.0 1100.8V1106.6M595.3 1100.8V1106.6M599.7 1100.8V1106.6M604.1 1100.8V1106.6M608.5 1100.8V1106.6M612.9 1100.8V1106.6M617.3 1100.8V1106.6M621.6 1100.8V1106.6M626.0 1100.8V1106.6M630.4 1100.8V1106.6M634.8 1100.8V1106.6M639.2 1100.8V1106.6M643.6 1100.8V1106.6M647.9 1100.8V1106.6M652.3 1100.8V1106.6M656.7 1100.8V1112.3M661.1 1100.8V1106.6M665.5 1100.8V1106.6M669.8 1100.8V1106.6M674.2 1100.8V1106.6M678.6 1100.8V1106.6M683.0 1100.8V1106.6M687.4 1100.8V1106.6M691.8 1100.8V1106.6M696.1 1100.8V1106.6M700.5 1100.8V1106.6M704.9 1100.8V1106.6M709.3 1100.8V1106.6M713.7 1100.8V1106.6M718.1 1100.8V1106.6M722.4 1100.8V1106.6M726.8 1100.8V1106.6M731.2 1100.8V1106.6M735.6 1100.8V1106.6M740.0 1100.8V1106.6M744.3 1100.8V1106.6M748.7 1100.8V1106.6M753.1 1100.8V1106.6M757.5 1100.8V1106.6M761.9 1100.8V1112.3M766.3 1100.8V1106.6M770.6 1100.8V1106.6M775.0 1100.8V1106.6M779.4 1100.8V1106.6M783.8 1100.8V1106.6M788.2 1100.8V1106.6M792.6 1100.8V1106.6M796.9 1100.8V1106.6M801.3 1100.8V1106.6M805.7 1100.8V1106.6M810.1 1100.8V1106.6M814.5 1100.8V1106.6M818.9 1100.8V1106.6M823.2 1100.8V1106.6M827.6 1100.8V1106.6M832.0 1100.8V1106.6M836.4 1100.8V1106.6M840.8 1100.8V1106.6M845.1 1100.8V1106.6M849.5 1100.8V1106.6M853.9 1100.8V1106.6M858.3 1100.8V1106.6M862.7 1100.8V1106.6M867.1 1100.8V1112.3M871.4 1100.8V1106.6M875.8 1100.8V1106.6M880.2 1100.8V1106.6M884.6 1100.8V1106.6M889.0 1100.8V1106.6M893.4 1100.8V1106.6M897.7 1100.8V1106.6M902.1 1100.8V1106.6M906.5 1100.8V1106.6M910.9 1100.8V1106.6M915.3 1100.8V1106.6M919.7 1100.8V1106.6M924.0 1100.8V1106.6M928.4 1100.8V1106.6M932.8 1100.8V1106.6M937.2 1100.8V1106.6M941.6 1100.8V1106.6M945.9 1100.8V1106.6M950.3 1100.8V1106.6M954.7 1100.8V1106.6M959.1 1100.8V1106.6M963.5 1100.8V1106.6M967.9 1100.8V1106.6M972.2 1100.8V1112.3M976.6 1100.8V1106.6M981.0 1100.8V1106.6M985.4 1100.8V1106.6M989.8 1100.8V1106.6M994.2 1100.8V1106.6M998.5 1100.8V1106.6M1002.9 1100.8V1106.6M1007.3 1100.8V1106.6M1011.7 1100.8V1106.6M1016.1 1100.8V1106.6M1020.4 1100.8V1106.6M1024.8 1100.8V1106.6M1029.2 1100.8V1106.6M1033.6 1100.8V1106.6M1038.0 1100.8V1106.6M1042.4 1100.8V1106.6M1046.7 1100.8V1106.6M1051.1 1100.8V1106.6M1055.5 1100.8V1106.6M1059.9 1100.8V1106.6M1064.3 1100.8V1106.6M1068.7 1100.8V1106.6M1073.0 1100.8V1106.6M1077.4 1100.8V1112.3M1081.8 1100.8V1106.6M1086.2 1100.8V1106.6M1090.6 1100.8V1106.6M1095.0 1100.8V1106.6M1099.3 1100.8V1106.6M1103.7 1100.8V1106.6M1108.1 1100.8V1106.6M1112.5 1100.8V1106.6M1116.9 1100.8V1106.6M1121.2 1100.8V1106.6M1125.6 1100.8V1106.6M1130.0 1100.8V1106.6M1134.4 1100.8V1106.6M1138.8 1100.8V1106.6M1143.2 1100.8V1106.6M1147.5 1100.8V1106.6M1151.9 1100.8V1106.6M1156.3 1100.8V1106.6M1160.7 1100.8V1106.6M1165.1 1100.8V1106.6M1169.5 1100.8V1106.6M1173.8 1100.8V1106.6M1178.2 1100.8V1106.6M1182.6 1100.8V1112.3" stroke="#333" stroke-width="1" fill="none"/>
<path d="M130.8 877.8H1182.6M130.8 1100.8H1182.6" stroke="#383838" stroke-width="1" fill="none"/>
<path d="M130.8 866.5V1112.3M1182.6 866.5V1112.3" stroke="#383838" stroke-width="1" fill="none"/>
<path d="M119.0 236.8H130.8M1182.6 236.8H1194.0M119.0 216.5H130.8M1182.6 216.5H1194.0M119.0 196.3H130.8M1182.6 196.3H1194.0M119.0 176.0H130.8M1182.6 176.0H1194.0M119.0 155.7H130.8M1182.6 155.7H1194.0M119.0 135.4H130.8M1182.6 135.4H1194.0M119.0 115.2H130.8M1182.6 115.2H1194.0M119.0 94.9H130.8M1182.6 94.9H1194.0M119.0 74.6H130.8M1182.6 74.6H1194.0M119.0 54.3H130.8M1182.6 54.3H1194.0M119.0 34.1H130.8M1182.6 34.1H1194.0M119.0 13.8H130.8M1182.6 13.8H1194.0" stroke="#383838" stroke-width="1" fill="none"/>
<path d="M119.0 524.8H130.8M1182.6 524.8H1194.0M119.0 506.2H130.8M1182.6 506.2H1194.0M119.0 487.6H130.8M1182.6 487.6H1194.0M119.0 469.0H130.8M1182.6 469.0H1194.0M119.0 450.5H130.8M1182.6 450.5H1194.0M119.0 431.9H130.8M1182.6 431.9H1194.0M119.0 413.3H130.8M1182.6 413.3H1194.0M119.0 394.7H130.8M1182.6 394.7H1194.0M119.0 376.1H130.8M1182.6 376.1H1194.0M119.0 357.5H130.8M1182.6 357.5H1194.0M119.0 339.0H130.8M1182.6 339.0H1194.0M119.0 320.4H130.8M1182.6 320.4H1194.0M119.0 301.8H130.8M1182.6 301.8H1194.0" stroke="#383838" stroke-width="1" fill="none"/>
<path d="M119.0 812.8H130.8M1182.6 812.8H1194.0M119.0 795.6H130.8M1182.6 795.6H1194.0M119.0 778.5H130.8M1182.6 778.5H1194.0M119.0 761.3H130.8M1182.6 761.3H1194.0M119.0 744.2H130.8M1182.6 744.2H1194.0M119.0 727.0H130.8M1182.6 727.0H1194.0M119.0 709.9H130.8M1182.6 709.9H1194.0M119.0 692.7H130.8M1182.6 692.7H1194.0M119.0 675.6H130.8M1182.6 675.6H1194.0M119.0 658.4H130.8M1182.6 658.4H1194.0M119.0 641.3H130.8M1182.6 641.3H1194.0M119.0 624.1H130.8M1182.6 624.1H1194.0M119.0 607.0H130.8M1182.6 607.0H1194.0M119.0 589.8H130.8M1182.6 589.8H1194.0" stroke="#383838" stroke-width="1" fill="none"/>
<path d="M119.0 1100.8H130.8M1182.6 1100.8H1194.0M119.0 1068.9H130.8M1182.6 1068.9H1194.0M119.0 1037.1H130.8M1182.6 1037.1H1194.0M119.0 1005.2H130.8M1182.6 1005.2H1194.0M119.0 973.4H130.8M1182.6 973.4H1194.0M119.0 941.5H130.8M1182.6 941.5H1194.0M119.0 909.7H130.8M1182.6 909.7H1194.0M119.0 877.8H130.8M1182.6 877.8H1194.0" stroke="#383838" stroke-width="1" fill="none"/>
<line x1="131.5" y1="339.0" x2="1182.5" y2="339.0" stroke="#333" stroke-width="1" stroke-dasharray="4 4"/>
<text x="110.8" y="40.9" font-size="20" fill="#000" stroke="#000" text-anchor="end" letter-spacing="2.2">13.0</text>
<text x="110.8" y="81.4" font-size="20" fill="#000" stroke="#000" text-anchor="end" letter-spacing="2.2">11.0</text>
<text x="110.8" y="122.0" font-size="20" fill="#000" stroke="#000" text-anchor="end" letter-spacing="2.2">9.0</text>
<text x="110.8" y="162.5" font-size="20" fill="#000" stroke="#000" text-anchor="end" letter-spacing="2.2">7.0</text>
<text x="110.8" y="203.1" font-size="20" fill="#000" stroke="#000" text-anchor="end" letter-spacing="2.2">5.0</text>
<text x="110.8" y="243.6" font-size="20" fill="#000" stroke="#000" text-anchor="end" letter-spacing="2.2">3.0</text>
<text x="110.8" y="531.6" font-size="20" fill="#000" stroke="#000" text-anchor="end" letter-spacing="2.2">0.0</text>
<text x="110.8" y="494.4" font-size="20" fill="#000" stroke="#000" text-anchor="end" letter-spacing="2.2">1.0</text>
<text x="110.8" y="457.3" font-size="20" fill="#000" stroke="#000" text-anchor="end" letter-spacing="2.2">2.0</text>
<text x="110.8" y="420.1" font-size="20" fill="#000" stroke="#000" text-anchor="end" letter-spacing="2.2">3.0</text>
<text x="110.8" y="382.9" font-size="20" fill="#000" stroke="#000" text-anchor="end" letter-spacing="2.2">4.0</text>
<text x="110.8" y="345.8" font-size="20" fill="#000" stroke="#000" text-anchor="end" letter-spacing="2.2">5.0</text>
<text x="110.8" y="308.6" font-size="20" fill="#000" stroke="#000" text-anchor="end" letter-spacing="2.2">6.0</text>
<text x="110.8" y="819.6" font-size="20" fill="#000" stroke="#000" text-anchor="end" letter-spacing="2.2">0.</text>
<text x="110.8" y="785.3" font-size="20" fill="#000" stroke="#000" text-anchor="end" letter-spacing="2.2">100.</text>
<text x="110.8" y="751.0" font-size="20" fill="#000" stroke="#000" text-anchor="end" letter-spacing="2.2">200.</text>
<text x="110.8" y="716.7" font-size="20" fill="#000" stroke="#000" text-anchor="end" letter-spacing="2.2">300.</text>
<text x="110.8" y="682.4" font-size="20" fill="#000" stroke="#000" text-anchor="end" letter-spacing="2.2">400.</text>
<text x="110.8" y="648.1" font-size="20" fill="#000" stroke="#000" text-anchor="end" letter-spacing="2.2">500.</text>
<text x="110.8" y="613.8" font-size="20" fill="#000" stroke="#000" text-anchor="end" letter-spacing="2.2">600.</text>
<text x="110.8" y="1107.6" font-size="20" fill="#000" stroke="#000" text-anchor="end" letter-spacing="2.2">0.0</text>
<text x="110.8" y="1043.9" font-size="20" fill="#000" stroke="#000" text-anchor="end" letter-spacing="2.2">1.0</text>
<text x="110.8" y="980.2" font-size="20" fill="#000" stroke="#000" text-anchor="end" letter-spacing="2.2">2.0</text>
<text x="110.8" y="916.5" font-size="20" fill="#000" stroke="#000" text-anchor="end" letter-spacing="2.2">3.0</text>
<text x="131.4" y="261.8" font-size="15.5" fill="#000" stroke="#000" text-anchor="middle" letter-spacing="1.2">00</text>
<text x="157.7" y="261.8" font-size="15.5" fill="#000" stroke="#000" text-anchor="middle" letter-spacing="1.2">06</text>
<text x="184.0" y="261.8" font-size="15.5" fill="#000" stroke="#000" text-anchor="middle" letter-spacing="1.2">12</text>
<text x="210.3" y="261.8" font-size="15.5" fill="#000" stroke="#000" text-anchor="middle" letter-spacing="1.2">18</text>
<text x="236.6" y="261.8" font-size="15.5" fill="#000" stroke="#000" text-anchor="middle" letter-spacing="1.2">00</text>
<text x="262.9" y="261.8" font-size="15.5" fill="#000" stroke="#000" text-anchor="middle" letter-spacing="1.2">06</text>
<text x="289.2" y="261.8" font-size="15.5" fill="#000" stroke="#000" text-anchor="middle" letter-spacing="1.2">12</text>
<text x="315.5" y="261.8" font-size="15.5" fill="#000" stroke="#000" text-anchor="middle" letter-spacing="1.2">18</text>
<text x="341.8" y="261.8" font-size="15.5" fill="#000" stroke="#000" text-anchor="middle" letter-spacing="1.2">00</text>
<text x="368.1" y="261.8" font-size="15.5" fill="#000" stroke="#000" text-anchor="middle" letter-spacing="1.2">06</text>
<text x="394.4" y="261.8" font-size="15.5" fill="#000" stroke="#000" text-anchor="middle" letter-spacing="1.2">12</text>
<text x="420.6" y="261.8" font-size="15.5" fill="#000" stroke="#000" text-anchor="middle" letter-spacing="1.2">18</text>
<text x="446.9" y="261.8" font-size="15.5" fill="#000" stroke="#000" text-anchor="middle" letter-spacing="1.2">00</text>
<text x="473.2" y="261.8" font-size="15.5" fill="#000" stroke="#000" text-anchor="middle" letter-spacing="1.2">06</text>
<text x="499.5" y="261.8" font-size="15.5" fill="#000" stroke="#000" text-anchor="middle" letter-spacing="1.2">12</text>
<text x="525.8" y="261.8" font-size="15.5" fill="#000" stroke="#000" text-anchor="middle" letter-spacing="1.2">18</text>
<text x="552.1" y="261.8" font-size="15.5" fill="#000" stroke="#000" text-anchor="middle" letter-spacing="1.2">00</text>
<text x="578.4" y="261.8" font-size="15.5" fill="#000" stroke="#000" text-anchor="middle" letter-spacing="1.2">06</text>
<text x="604.7" y="261.8" font-size="15.5" fill="#000" stroke="#000" text-anchor="middle" letter-spacing="1.2">12</text>
<text x="631.0" y="261.8" font-size="15.5" fill="#000" stroke="#000" text-anchor="middle" letter-spacing="1.2">18</text>
<text x="657.3" y="261.8" font-size="15.5" fill="#000" stroke="#000" text-anchor="middle" letter-spacing="1.2">00</text>
<text x="683.6" y="261.8" font-size="15.5" fill="#000" stroke="#000" text-anchor="middle" letter-spacing="1.2">06</text>
<text x="709.9" y="261.8" font-size="15.5" fill="#000" stroke="#000" text-anchor="middle" letter-spacing="1.2">12</text>
<text x="736.2" y="261.8" font-size="15.5" fill="#000" stroke="#000" text-anchor="middle" letter-spacing="1.2">18</text>
<text x="762.5" y="261.8" font-size="15.5" fill="#000" stroke="#000" text-anchor="middle" letter-spacing="1.2">00</text>
<text x="788.8" y="261.8" font-size="15.5" fill="#000" stroke="#000" text-anchor="middle" letter-spacing="1.2">06</text>
<text x="815.1" y="261.8" font-size="15.5" fill="#000" stroke="#000" text-anchor="middle" letter-spacing="1.2">12</text>
<text x="841.4" y="261.8" font-size="15.5" fill="#000" stroke="#000" text-anchor="middle" letter-spacing="1.2">18</text>
<text x="867.7" y="261.8" font-size="15.5" fill="#000" stroke="#000" text-anchor="middle" letter-spacing="1.2">00</text>
<text x="894.0" y="261.8" font-size="15.5" fill="#000" stroke="#000" text-anchor="middle" letter-spacing="1.2">06</text>
<text x="920.3" y="261.8" font-size="15.5" fill="#000" stroke="#000" text-anchor="middle" letter-spacing="1.2">12</text>
<text x="946.5" y="261.8" font-size="15.5" fill="#000" stroke="#000" text-anchor="middle" letter-spacing="1.2">18</text>
<text x="972.8" y="261.8" font-size="15.5" fill="#000" stroke="#000" text-anchor="middle" letter-spacing="1.2">00</text>
<text x="999.1" y="261.8" font-size="15.5" fill="#000" stroke="#000" text-anchor="middle" letter-spacing="1.2">06</text>
<text x="1025.4" y="261.8" font-size="15.5" fill="#000" stroke="#000" text-anchor="middle" letter-spacing="1.2">12</text>
<text x="1051.7" y="261.8" font-size="15.5" fill="#000" stroke="#000" text-anchor="middle" letter-spacing="1.2">18</text>
<text x="1078.0" y="261.8" font-size="15.5" fill="#000" stroke="#000" text-anchor="middle" letter-spacing="1.2">00</text>
<text x="1104.3" y="261.8" font-size="15.5" fill="#000" stroke="#000" text-anchor="middle" letter-spacing="1.2">06</text>
<text x="1130.6" y="261.8" font-size="15.5" fill="#000" stroke="#000" text-anchor="middle" letter-spacing="1.2">12</text>
<text x="1156.9" y="261.8" font-size="15.5" fill="#000" stroke="#000" text-anchor="middle" letter-spacing="1.2">18</text>
<text x="1183.2" y="261.8" font-size="15.5" fill="#000" stroke="#000" text-anchor="middle" letter-spacing="1.2">00</text>
<text x="0" y="0" font-size="21.5" fill="#000" stroke="#000" textLength="48.8" lengthAdjust="spacing" transform="translate(142.3 285.8) scale(0.82 1)">OCT</text>
<text x="219.3" y="285.8" font-size="22.5" fill="#000" stroke="#000" text-anchor="end" letter-spacing="1">30</text>
<text x="0" y="0" font-size="21.5" fill="#000" stroke="#000" textLength="48.8" lengthAdjust="spacing" transform="translate(247.5 285.8) scale(0.82 1)">OCT</text>
<text x="322.3" y="285.8" font-size="22.5" fill="#000" stroke="#000" text-anchor="end" letter-spacing="1">31</text>
<text x="0" y="0" font-size="21.5" fill="#000" stroke="#000" textLength="52.0" lengthAdjust="spacing" transform="translate(350.2 285.8) scale(0.82 1)">NOV</text>
<text x="427.5" y="285.8" font-size="22.5" fill="#000" stroke="#000" text-anchor="end" letter-spacing="1">1</text>
<text x="0" y="0" font-size="21.5" fill="#000" stroke="#000" textLength="52.0" lengthAdjust="spacing" transform="translate(455.4 285.8) scale(0.82 1)">NOV</text>
<text x="532.7" y="285.8" font-size="22.5" fill="#000" stroke="#000" text-anchor="end" letter-spacing="1">2</text>
<text x="0" y="0" font-size="21.5" fill="#000" stroke="#000" textLength="52.0" lengthAdjust="spacing" transform="translate(560.6 285.8) scale(0.82 1)">NOV</text>
<text x="637.9" y="285.8" font-size="22.5" fill="#000" stroke="#000" text-anchor="end" letter-spacing="1">3</text>
<text x="0" y="0" font-size="21.5" fill="#000" stroke="#000" textLength="52.0" lengthAdjust="spacing" transform="translate(665.8 285.8) scale(0.82 1)">NOV</text>
<text x="743.1" y="285.8" font-size="22.5" fill="#000" stroke="#000" text-anchor="end" letter-spacing="1">4</text>
<text x="0" y="0" font-size="21.5" fill="#000" stroke="#000" textLength="52.0" lengthAdjust="spacing" transform="translate(771.0 285.8) scale(0.82 1)">NOV</text>
<text x="848.3" y="285.8" font-size="22.5" fill="#000" stroke="#000" text-anchor="end" letter-spacing="1">5</text>
<text x="0" y="0" font-size="21.5" fill="#000" stroke="#000" textLength="52.0" lengthAdjust="spacing" transform="translate(876.2 285.8) scale(0.82 1)">NOV</text>
<text x="953.5" y="285.8" font-size="22.5" fill="#000" stroke="#000" text-anchor="end" letter-spacing="1">6</text>
<text x="0" y="0" font-size="21.5" fill="#000" stroke="#000" textLength="52.0" lengthAdjust="spacing" transform="translate(981.4 285.8) scale(0.82 1)">NOV</text>
<text x="1058.7" y="285.8" font-size="22.5" fill="#000" stroke="#000" text-anchor="end" letter-spacing="1">7</text>
<text x="0" y="0" font-size="21.5" fill="#000" stroke="#000" textLength="52.0" lengthAdjust="spacing" transform="translate(1086.6 285.8) scale(0.82 1)">NOV</text>
<text x="1163.9" y="285.8" font-size="22.5" fill="#000" stroke="#000" text-anchor="end" letter-spacing="1">8</text>
<text x="131.4" y="549.8" font-size="15.5" fill="#000" stroke="#000" text-anchor="middle" letter-spacing="1.2">00</text>
<text x="157.7" y="549.8" font-size="15.5" fill="#000" stroke="#000" text-anchor="middle" letter-spacing="1.2">06</text>
<text x="184.0" y="549.8" font-size="15.5" fill="#000" stroke="#000" text-anchor="middle" letter-spacing="1.2">12</text>
<text x="210.3" y="549.8" font-size="15.5" fill="#000" stroke="#000" text-anchor="middle" letter-spacing="1.2">18</text>
<text x="236.6" y="549.8" font-size="15.5" fill="#000" stroke="#000" text-anchor="middle" letter-spacing="1.2">00</text>
<text x="262.9" y="549.8" font-size="15.5" fill="#000" stroke="#000" text-anchor="middle" letter-spacing="1.2">06</text>
<text x="289.2" y="549.8" font-size="15.5" fill="#000" stroke="#000" text-anchor="middle" letter-spacing="1.2">12</text>
<text x="315.5" y="549.8" font-size="15.5" fill="#000" stroke="#000" text-anchor="middle" letter-spacing="1.2">18</text>
<text x="341.8" y="549.8" font-size="15.5" fill="#000" stroke="#000" text-anchor="middle" letter-spacing="1.2">00</text>
<text x="368.1" y="549.8" font-size="15.5" fill="#000" stroke="#000" text-anchor="middle" letter-spacing="1.2">06</text>
<text x="394.4" y="549.8" font-size="15.5" fill="#000" stroke="#000" text-anchor="middle" letter-spacing="1.2">12</text>
<text x="420.6" y="549.8" font-size="15.5" fill="#000" stroke="#000" text-anchor="middle" letter-spacing="1.2">18</text>
<text x="446.9" y="549.8" font-size="15.5" fill="#000" stroke="#000" text-anchor="middle" letter-spacing="1.2">00</text>
<text x="473.2" y="549.8" font-size="15.5" fill="#000" stroke="#000" text-anchor="middle" letter-spacing="1.2">06</text>
<text x="499.5" y="549.8" font-size="15.5" fill="#000" stroke="#000" text-anchor="middle" letter-spacing="1.2">12</text>
<text x="525.8" y="549.8" font-size="15.5" fill="#000" stroke="#000" text-anchor="middle" letter-spacing="1.2">18</text>
<text x="552.1" y="549.8" font-size="15.5" fill="#000" stroke="#000" text-anchor="middle" letter-spacing="1.2">00</text>
<text x="578.4" y="549.8" font-size="15.5" fill="#000" stroke="#000" text-anchor="middle" letter-spacing="1.2">06</text>
<text x="604.7" y="549.8" font-size="15.5" fill="#000" stroke="#000" text-anchor="middle" letter-spacing="1.2">12</text>
<text x="631.0" y="549.8" font-size="15.5" fill="#000" stroke="#000" text-anchor="middle" letter-spacing="1.2">18</text>
<text x="657.3" y="549.8" font-size="15.5" fill="#000" stroke="#000" text-anchor="middle" letter-spacing="1.2">00</text>
<text x="683.6" y="549.8" font-size="15.5" fill="#000" stroke="#000" text-anchor="middle" letter-spacing="1.2">06</text>
<text x="709.9" y="549.8" font-size="15.5" fill="#000" stroke="#000" text-anchor="middle" letter-spacing="1.2">12</text>
<text x="736.2" y="549.8" font-size="15.5" fill="#000" stroke="#000" text-anchor="middle" letter-spacing="1.2">18</text>
<text x="762.5" y="549.8" font-size="15.5" fill="#000" stroke="#000" text-anchor="middle" letter-spacing="1.2">00</text>
<text x="788.8" y="549.8" font-size="15.5" fill="#000" stroke="#000" text-anchor="middle" letter-spacing="1.2">06</text>
<text x="815.1" y="549.8" font-size="15.5" fill="#000" stroke="#000" text-anchor="middle" letter-spacing="1.2">12</text>
<text x="841.4" y="549.8" font-size="15.5" fill="#000" stroke="#000" text-anchor="middle" letter-spacing="1.2">18</text>
<text x="867.7" y="549.8" font-size="15.5" fill="#000" stroke="#000" text-anchor="middle" letter-spacing="1.2">00</text>
<text x="894.0" y="549.8" font-size="15.5" fill="#000" stroke="#000" text-anchor="middle" letter-spacing="1.2">06</text>
<text x="920.3" y="549.8" font-size="15.5" fill="#000" stroke="#000" text-anchor="middle" letter-spacing="1.2">12</text>
<text x="946.5" y="549.8" font-size="15.5" fill="#000" stroke="#000" text-anchor="middle" letter-spacing="1.2">18</text>
<text x="972.8" y="549.8" font-size="15.5" fill="#000" stroke="#000" text-anchor="middle" letter-spacing="1.2">00</text>
<text x="999.1" y="549.8" font-size="15.5" fill="#000" stroke="#000" text-anchor="middle" letter-spacing="1.2">06</text>
<text x="1025.4" y="549.8" font-size="15.5" fill="#000" stroke="#000" text-anchor="middle" letter-spacing="1.2">12</text>
<text x="1051.7" y="549.8" font-size="15.5" fill="#000" stroke="#000" text-anchor="middle" letter-spacing="1.2">18</text>
<text x="1078.0" y="549.8" font-size="15.5" fill="#000" stroke="#000" text-anchor="middle" letter-spacing="1.2">00</text>
<text x="1104.3" y="549.8" font-size="15.5" fill="#000" stroke="#000" text-anchor="middle" letter-spacing="1.2">06</text>
<text x="1130.6" y="549.8" font-size="15.5" fill="#000" stroke="#000" text-anchor="middle" letter-spacing="1.2">12</text>
<text x="1156.9" y="549.8" font-size="15.5" fill="#000" stroke="#000" text-anchor="middle" letter-spacing="1.2">18</text>
<text x="1183.2" y="549.8" font-size="15.5" fill="#000" stroke="#000" text-anchor="middle" letter-spacing="1.2">00</text>
<text x="0" y="0" font-size="21.5" fill="#000" stroke="#000" textLength="48.8" lengthAdjust="spacing" transform="translate(142.3 573.8) scale(0.82 1)">OCT</text>
<text x="219.3" y="573.8" font-size="22.5" fill="#000" stroke="#000" text-anchor="end" letter-spacing="1">30</text>
<text x="0" y="0" font-size="21.5" fill="#000" stroke="#000" textLength="48.8" lengthAdjust="spacing" transform="translate(247.5 573.8) scale(0.82 1)">OCT</text>
<text x="322.3" y="573.8" font-size="22.5" fill="#000" stroke="#000" text-anchor="end" letter-spacing="1">31</text>
<text x="0" y="0" font-size="21.5" fill="#000" stroke="#000" textLength="52.0" lengthAdjust="spacing" transform="translate(350.2 573.8) scale(0.82 1)">NOV</text>
<text x="427.5" y="573.8" font-size="22.5" fill="#000" stroke="#000" text-anchor="end" letter-spacing="1">1</text>
<text x="0" y="0" font-size="21.5" fill="#000" stroke="#000" textLength="52.0" lengthAdjust="spacing" transform="translate(455.4 573.8) scale(0.82 1)">NOV</text>
<text x="532.7" y="573.8" font-size="22.5" fill="#000" stroke="#000" text-anchor="end" letter-spacing="1">2</text>
<text x="0" y="0" font-size="21.5" fill="#000" stroke="#000" textLength="52.0" lengthAdjust="spacing" transform="translate(560.6 573.8) scale(0.82 1)">NOV</text>
<text x="637.9" y="573.8" font-size="22.5" fill="#000" stroke="#000" text-anchor="end" letter-spacing="1">3</text>
<text x="0" y="0" font-size="21.5" fill="#000" stroke="#000" textLength="52.0" lengthAdjust="spacing" transform="translate(665.8 573.8) scale(0.82 1)">NOV</text>
<text x="743.1" y="573.8" font-size="22.5" fill="#000" stroke="#000" text-anchor="end" letter-spacing="1">4</text>
<text x="0" y="0" font-size="21.5" fill="#000" stroke="#000" textLength="52.0" lengthAdjust="spacing" transform="translate(771.0 573.8) scale(0.82 1)">NOV</text>
<text x="848.3" y="573.8" font-size="22.5" fill="#000" stroke="#000" text-anchor="end" letter-spacing="1">5</text>
<text x="0" y="0" font-size="21.5" fill="#000" stroke="#000" textLength="52.0" lengthAdjust="spacing" transform="translate(876.2 573.8) scale(0.82 1)">NOV</text>
<text x="953.5" y="573.8" font-size="22.5" fill="#000" stroke="#000" text-anchor="end" letter-spacing="1">6</text>
<text x="0" y="0" font-size="21.5" fill="#000" stroke="#000" textLength="52.0" lengthAdjust="spacing" transform="translate(981.4 573.8) scale(0.82 1)">NOV</text>
<text x="1058.7" y="573.8" font-size="22.5" fill="#000" stroke="#000" text-anchor="end" letter-spacing="1">7</text>
<text x="0" y="0" font-size="21.5" fill="#000" stroke="#000" textLength="52.0" lengthAdjust="spacing" transform="translate(1086.6 573.8) scale(0.82 1)">NOV</text>
<text x="1163.9" y="573.8" font-size="22.5" fill="#000" stroke="#000" text-anchor="end" letter-spacing="1">8</text>
<text x="131.4" y="837.8" font-size="15.5" fill="#000" stroke="#000" text-anchor="middle" letter-spacing="1.2">00</text>
<text x="157.7" y="837.8" font-size="15.5" fill="#000" stroke="#000" text-anchor="middle" letter-spacing="1.2">06</text>
<text x="184.0" y="837.8" font-size="15.5" fill="#000" stroke="#000" text-anchor="middle" letter-spacing="1.2">12</text>
<text x="210.3" y="837.8" font-size="15.5" fill="#000" stroke="#000" text-anchor="middle" letter-spacing="1.2">18</text>
<text x="236.6" y="837.8" font-size="15.5" fill="#000" stroke="#000" text-anchor="middle" letter-spacing="1.2">00</text>
<text x="262.9" y="837.8" font-size="15.5" fill="#000" stroke="#000" text-anchor="middle" letter-spacing="1.2">06</text>
<text x="289.2" y="837.8" font-size="15.5" fill="#000" stroke="#000" text-anchor="middle" letter-spacing="1.2">12</text>
<text x="315.5" y="837.8" font-size="15.5" fill="#000" stroke="#000" text-anchor="middle" letter-spacing="1.2">18</text>
<text x="341.8" y="837.8" font-size="15.5" fill="#000" stroke="#000" text-anchor="middle" letter-spacing="1.2">00</text>
<text x="368.1" y="837.8" font-size="15.5" fill="#000" stroke="#000" text-anchor="middle" letter-spacing="1.2">06</text>
<text x="394.4" y="837.8" font-size="15.5" fill="#000" stroke="#000" text-anchor="middle" letter-spacing="1.2">12</text>
<text x="420.6" y="837.8" font-size="15.5" fill="#000" stroke="#000" text-anchor="middle" letter-spacing="1.2">18</text>
<text x="446.9" y="837.8" font-size="15.5" fill="#000" stroke="#000" text-anchor="middle" letter-spacing="1.2">00</text>
<text x="473.2" y="837.8" font-size="15.5" fill="#000" stroke="#000" text-anchor="middle" letter-spacing="1.2">06</text>
<text x="499.5" y="837.8" font-size="15.5" fill="#000" stroke="#000" text-anchor="middle" letter-spacing="1.2">12</text>
<text x="525.8" y="837.8" font-size="15.5" fill="#000" stroke="#000" text-anchor="middle" letter-spacing="1.2">18</text>
<text x="552.1" y="837.8" font-size="15.5" fill="#000" stroke="#000" text-anchor="middle" letter-spacing="1.2">00</text>
<text x="578.4" y="837.8" font-size="15.5" fill="#000" stroke="#000" text-anchor="middle" letter-spacing="1.2">06</text>
<text x="604.7" y="837.8" font-size="15.5" fill="#000" stroke="#000" text-anchor="middle" letter-spacing="1.2">12</text>
<text x="631.0" y="837.8" font-size="15.5" fill="#000" stroke="#000" text-anchor="middle" letter-spacing="1.2">18</text>
<text x="657.3" y="837.8" font-size="15.5" fill="#000" stroke="#000" text-anchor="middle" letter-spacing="1.2">00</text>
<text x="683.6" y="837.8" font-size="15.5" fill="#000" stroke="#000" text-anchor="middle" letter-spacing="1.2">06</text>
<text x="709.9" y="837.8" font-size="15.5" fill="#000" stroke="#000" text-anchor="middle" letter-spacing="1.2">12</text>
<text x="736.2" y="837.8" font-size="15.5" fill="#000" stroke="#000" text-anchor="middle" letter-spacing="1.2">18</text>
<text x="762.5" y="837.8" font-size="15.5" fill="#000" stroke="#000" text-anchor="middle" letter-spacing="1.2">00</text>
<text x="788.8" y="837.8" font-size="15.5" fill="#000" stroke="#000" text-anchor="middle" letter-spacing="1.2">06</text>
<text x="815.1" y="837.8" font-size="15.5" fill="#000" stroke="#000" text-anchor="middle" letter-spacing="1.2">12</text>
<text x="841.4" y="837.8" font-size="15.5" fill="#000" stroke="#000" text-anchor="middle" letter-spacing="1.2">18</text>
<text x="867.7" y="837.8" font-size="15.5" fill="#000" stroke="#000" text-anchor="middle" letter-spacing="1.2">00</text>
<text x="894.0" y="837.8" font-size="15.5" fill="#000" stroke="#000" text-anchor="middle" letter-spacing="1.2">06</text>
<text x="920.3" y="837.8" font-size="15.5" fill="#000" stroke="#000" text-anchor="middle" letter-spacing="1.2">12</text>
<text x="946.5" y="837.8" font-size="15.5" fill="#000" stroke="#000" text-anchor="middle" letter-spacing="1.2">18</text>
<text x="972.8" y="837.8" font-size="15.5" fill="#000" stroke="#000" text-anchor="middle" letter-spacing="1.2">00</text>
<text x="999.1" y="837.8" font-size="15.5" fill="#000" stroke="#000" text-anchor="middle" letter-spacing="1.2">06</text>
<text x="1025.4" y="837.8" font-size="15.5" fill="#000" stroke="#000" text-anchor="middle" letter-spacing="1.2">12</text>
<text x="1051.7" y="837.8" font-size="15.5" fill="#000" stroke="#000" text-anchor="middle" letter-spacing="1.2">18</text>
<text x="1078.0" y="837.8" font-size="15.5" fill="#000" stroke="#000" text-anchor="middle" letter-spacing="1.2">00</text>
<text x="1104.3" y="837.8" font-size="15.5" fill="#000" stroke="#000" text-anchor="middle" letter-spacing="1.2">06</text>
<text x="1130.6" y="837.8" font-size="15.5" fill="#000" stroke="#000" text-anchor="middle" letter-spacing="1.2">12</text>
<text x="1156.9" y="837.8" font-size="15.5" fill="#000" stroke="#000" text-anchor="middle" letter-spacing="1.2">18</text>
<text x="1183.2" y="837.8" font-size="15.5" fill="#000" stroke="#000" text-anchor="middle" letter-spacing="1.2">00</text>
<text x="0" y="0" font-size="21.5" fill="#000" stroke="#000" textLength="48.8" lengthAdjust="spacing" transform="translate(142.3 861.8) scale(0.82 1)">OCT</text>
<text x="219.3" y="861.8" font-size="22.5" fill="#000" stroke="#000" text-anchor="end" letter-spacing="1">30</text>
<text x="0" y="0" font-size="21.5" fill="#000" stroke="#000" textLength="48.8" lengthAdjust="spacing" transform="translate(247.5 861.8) scale(0.82 1)">OCT</text>
<text x="322.3" y="861.8" font-size="22.5" fill="#000" stroke="#000" text-anchor="end" letter-spacing="1">31</text>
<text x="0" y="0" font-size="21.5" fill="#000" stroke="#000" textLength="52.0" lengthAdjust="spacing" transform="translate(350.2 861.8) scale(0.82 1)">NOV</text>
<text x="427.5" y="861.8" font-size="22.5" fill="#000" stroke="#000" text-anchor="end" letter-spacing="1">1</text>
<text x="0" y="0" font-size="21.5" fill="#000" stroke="#000" textLength="52.0" lengthAdjust="spacing" transform="translate(455.4 861.8) scale(0.82 1)">NOV</text>
<text x="532.7" y="861.8" font-size="22.5" fill="#000" stroke="#000" text-anchor="end" letter-spacing="1">2</text>
<text x="0" y="0" font-size="21.5" fill="#000" stroke="#000" textLength="52.0" lengthAdjust="spacing" transform="translate(560.6 861.8) scale(0.82 1)">NOV</text>
<text x="637.9" y="861.8" font-size="22.5" fill="#000" stroke="#000" text-anchor="end" letter-spacing="1">3</text>
<text x="0" y="0" font-size="21.5" fill="#000" stroke="#000" textLength="52.0" lengthAdjust="spacing" transform="translate(665.8 861.8) scale(0.82 1)">NOV</text>
<text x="743.1" y="861.8" font-size="22.5" fill="#000" stroke="#000" text-anchor="end" letter-spacing="1">4</text>
<text x="0" y="0" font-size="21.5" fill="#000" stroke="#000" textLength="52.0" lengthAdjust="spacing" transform="translate(771.0 861.8) scale(0.82 1)">NOV</text>
<text x="848.3" y="861.8" font-size="22.5" fill="#000" stroke="#000" text-anchor="end" letter-spacing="1">5</text>
<text x="0" y="0" font-size="21.5" fill="#000" stroke="#000" textLength="52.0" lengthAdjust="spacing" transform="translate(876.2 861.8) scale(0.82 1)">NOV</text>
<text x="953.5" y="861.8" font-size="22.5" fill="#000" stroke="#000" text-anchor="end" letter-spacing="1">6</text>
<text x="0" y="0" font-size="21.5" fill="#000" stroke="#000" textLength="52.0" lengthAdjust="spacing" transform="translate(981.4 861.8) scale(0.82 1)">NOV</text>
<text x="1058.7" y="861.8" font-size="22.5" fill="#000" stroke="#000" text-anchor="end" letter-spacing="1">7</text>
<text x="0" y="0" font-size="21.5" fill="#000" stroke="#000" textLength="52.0" lengthAdjust="spacing" transform="translate(1086.6 861.8) scale(0.82 1)">NOV</text>
<text x="1163.9" y="861.8" font-size="22.5" fill="#000" stroke="#000" text-anchor="end" letter-spacing="1">8</text>
<text x="131.4" y="1125.8" font-size="15.5" fill="#000" stroke="#000" text-anchor="middle" letter-spacing="1.2">00</text>
<text x="157.7" y="1125.8" font-size="15.5" fill="#000" stroke="#000" text-anchor="middle" letter-spacing="1.2">06</text>
<text x="184.0" y="1125.8" font-size="15.5" fill="#000" stroke="#000" text-anchor="middle" letter-spacing="1.2">12</text>
<text x="210.3" y="1125.8" font-size="15.5" fill="#000" stroke="#000" text-anchor="middle" letter-spacing="1.2">18</text>
<text x="236.6" y="1125.8" font-size="15.5" fill="#000" stroke="#000" text-anchor="middle" letter-spacing="1.2">00</text>
<text x="262.9" y="1125.8" font-size="15.5" fill="#000" stroke="#000" text-anchor="middle" letter-spacing="1.2">06</text>
<text x="289.2" y="1125.8" font-size="15.5" fill="#000" stroke="#000" text-anchor="middle" letter-spacing="1.2">12</text>
<text x="315.5" y="1125.8" font-size="15.5" fill="#000" stroke="#000" text-anchor="middle" letter-spacing="1.2">18</text>
<text x="341.8" y="1125.8" font-size="15.5" fill="#000" stroke="#000" text-anchor="middle" letter-spacing="1.2">00</text>
<text x="368.1" y="1125.8" font-size="15.5" fill="#000" stroke="#000" text-anchor="middle" letter-spacing="1.2">06</text>
<text x="394.4" y="1125.8" font-size="15.5" fill="#000" stroke="#000" text-anchor="middle" letter-spacing="1.2">12</text>
<text x="420.6" y="1125.8" font-size="15.5" fill="#000" stroke="#000" text-anchor="middle" letter-spacing="1.2">18</text>
<text x="446.9" y="1125.8" font-size="15.5" fill="#000" stroke="#000" text-anchor="middle" letter-spacing="1.2">00</text>
<text x="473.2" y="1125.8" font-size="15.5" fill="#000" stroke="#000" text-anchor="middle" letter-spacing="1.2">06</text>
<text x="499.5" y="1125.8" font-size="15.5" fill="#000" stroke="#000" text-anchor="middle" letter-spacing="1.2">12</text>
<text x="525.8" y="1125.8" font-size="15.5" fill="#000" stroke="#000" text-anchor="middle" letter-spacing="1.2">18</text>
<text x="552.1" y="1125.8" font-size="15.5" fill="#000" stroke="#000" text-anchor="middle" letter-spacing="1.2">00</text>
<text x="578.4" y="1125.8" font-size="15.5" fill="#000" stroke="#000" text-anchor="middle" letter-spacing="1.2">06</text>
<text x="604.7" y="1125.8" font-size="15.5" fill="#000" stroke="#000" text-anchor="middle" letter-spacing="1.2">12</text>
<text x="631.0" y="1125.8" font-size="15.5" fill="#000" stroke="#000" text-anchor="middle" letter-spacing="1.2">18</text>
<text x="657.3" y="1125.8" font-size="15.5" fill="#000" stroke="#000" text-anchor="middle" letter-spacing="1.2">00</text>
<text x="683.6" y="1125.8" font-size="15.5" fill="#000" stroke="#000" text-anchor="middle" letter-spacing="1.2">06</text>
<text x="709.9" y="1125.8" font-size="15.5" fill="#000" stroke="#000" text-anchor="middle" letter-spacing="1.2">12</text>
<text x="736.2" y="1125.8" font-size="15.5" fill="#000" stroke="#000" text-anchor="middle" letter-spacing="1.2">18</text>
<text x="762.5" y="1125.8" font-size="15.5" fill="#000" stroke="#000" text-anchor="middle" letter-spacing="1.2">00</text>
<text x="788.8" y="1125.8" font-size="15.5" fill="#000" stroke="#000" text-anchor="middle" letter-spacing="1.2">06</text>
<text x="815.1" y="1125.8" font-size="15.5" fill="#000" stroke="#000" text-anchor="middle" letter-spacing="1.2">12</text>
<text x="841.4" y="1125.8" font-size="15.5" fill="#000" stroke="#000" text-anchor="middle" letter-spacing="1.2">18</text>
<text x="867.7" y="1125.8" font-size="15.5" fill="#000" stroke="#000" text-anchor="middle" letter-spacing="1.2">00</text>
<text x="894.0" y="1125.8" font-size="15.5" fill="#000" stroke="#000" text-anchor="middle" letter-spacing="1.2">06</text>
<text x="920.3" y="1125.8" font-size="15.5" fill="#000" stroke="#000" text-anchor="middle" letter-spacing="1.2">12</text>
<text x="946.5" y="1125.8" font-size="15.5" fill="#000" stroke="#000" text-anchor="middle" letter-spacing="1.2">18</text>
<text x="972.8" y="1125.8" font-size="15.5" fill="#000" stroke="#000" text-anchor="middle" letter-spacing="1.2">00</text>
<text x="999.1" y="1125.8" font-size="15.5" fill="#000" stroke="#000" text-anchor="middle" letter-spacing="1.2">06</text>
<text x="1025.4" y="1125.8" font-size="15.5" fill="#000" stroke="#000" text-anchor="middle" letter-spacing="1.2">12</text>
<text x="1051.7" y="1125.8" font-size="15.5" fill="#000" stroke="#000" text-anchor="middle" letter-spacing="1.2">18</text>
<text x="1078.0" y="1125.8" font-size="15.5" fill="#000" stroke="#000" text-anchor="middle" letter-spacing="1.2">00</text>
<text x="1104.3" y="1125.8" font-size="15.5" fill="#000" stroke="#000" text-anchor="middle" letter-spacing="1.2">06</text>
<text x="1130.6" y="1125.8" font-size="15.5" fill="#000" stroke="#000" text-anchor="middle" letter-spacing="1.2">12</text>
<text x="1156.9" y="1125.8" font-size="15.5" fill="#000" stroke="#000" text-anchor="middle" letter-spacing="1.2">18</text>
<text x="1183.2" y="1125.8" font-size="15.5" fill="#000" stroke="#000" text-anchor="middle" letter-spacing="1.2">00</text>
<text x="0" y="0" font-size="21.5" fill="#000" stroke="#000" textLength="48.8" lengthAdjust="spacing" transform="translate(142.3 1149.8) scale(0.82 1)">OCT</text>
<text x="219.3" y="1149.8" font-size="22.5" fill="#000" stroke="#000" text-anchor="end" letter-spacing="1">30</text>
<text x="0" y="0" font-size="21.5" fill="#000" stroke="#000" textLength="48.8" lengthAdjust="spacing" transform="translate(247.5 1149.8) scale(0.82 1)">OCT</text>
<text x="322.3" y="1149.8" font-size="22.5" fill="#000" stroke="#000" text-anchor="end" letter-spacing="1">31</text>
<text x="0" y="0" font-size="21.5" fill="#000" stroke="#000" textLength="52.0" lengthAdjust="spacing" transform="translate(350.2 1149.8) scale(0.82 1)">NOV</text>
<text x="427.5" y="1149.8" font-size="22.5" fill="#000" stroke="#000" text-anchor="end" letter-spacing="1">1</text>
<text x="0" y="0" font-size="21.5" fill="#000" stroke="#000" textLength="52.0" lengthAdjust="spacing" transform="translate(455.4 1149.8) scale(0.82 1)">NOV</text>
<text x="532.7" y="1149.8" font-size="22.5" fill="#000" stroke="#000" text-anchor="end" letter-spacing="1">2</text>
<text x="0" y="0" font-size="21.5" fill="#000" stroke="#000" textLength="52.0" lengthAdjust="spacing" transform="translate(560.6 1149.8) scale(0.82 1)">NOV</text>
<text x="637.9" y="1149.8" font-size="22.5" fill="#000" stroke="#000" text-anchor="end" letter-spacing="1">3</text>
<text x="0" y="0" font-size="21.5" fill="#000" stroke="#000" textLength="52.0" lengthAdjust="spacing" transform="translate(665.8 1149.8) scale(0.82 1)">NOV</text>
<text x="743.1" y="1149.8" font-size="22.5" fill="#000" stroke="#000" text-anchor="end" letter-spacing="1">4</text>
<text x="0" y="0" font-size="21.5" fill="#000" stroke="#000" textLength="52.0" lengthAdjust="spacing" transform="translate(771.0 1149.8) scale(0.82 1)">NOV</text>
<text x="848.3" y="1149.8" font-size="22.5" fill="#000" stroke="#000" text-anchor="end" letter-spacing="1">5</text>
<text x="0" y="0" font-size="21.5" fill="#000" stroke="#000" textLength="52.0" lengthAdjust="spacing" transform="translate(876.2 1149.8) scale(0.82 1)">NOV</text>
<text x="953.5" y="1149.8" font-size="22.5" fill="#000" stroke="#000" text-anchor="end" letter-spacing="1">6</text>
<text x="0" y="0" font-size="21.5" fill="#000" stroke="#000" textLength="52.0" lengthAdjust="spacing" transform="translate(981.4 1149.8) scale(0.82 1)">NOV</text>
<text x="1058.7" y="1149.8" font-size="22.5" fill="#000" stroke="#000" text-anchor="end" letter-spacing="1">7</text>
<text x="0" y="0" font-size="21.5" fill="#000" stroke="#000" textLength="52.0" lengthAdjust="spacing" transform="translate(1086.6 1149.8) scale(0.82 1)">NOV</text>
<text x="1163.9" y="1149.8" font-size="22.5" fill="#000" stroke="#000" text-anchor="end" letter-spacing="1">8</text>
<text x="186.9" y="33.5" font-size="22.5" fill="#000" stroke="#000" text-anchor="middle" letter-spacing="1">Th</text>
<text x="289.2" y="33.5" font-size="22.5" fill="#000" stroke="#000" text-anchor="middle" letter-spacing="1">Fr</text>
<text x="395.3" y="33.5" font-size="22.5" fill="#ff0000" stroke="#ff0000" text-anchor="middle" letter-spacing="1">Sa</text>
<text x="502.2" y="33.5" font-size="22.5" fill="#ff0000" stroke="#ff0000" text-anchor="middle" letter-spacing="1">Su</text>
<text x="609.0" y="33.5" font-size="22.5" fill="#000" stroke="#000" text-anchor="middle" letter-spacing="1">Mo</text>
<text x="716.2" y="33.5" font-size="22.5" fill="#000" stroke="#000" text-anchor="middle" letter-spacing="1">Tu</text>
<text x="822.7" y="33.5" font-size="22.5" fill="#000" stroke="#000" text-anchor="middle" letter-spacing="1">We</text>
<text x="928.8" y="33.5" font-size="22.5" fill="#000" stroke="#000" text-anchor="middle" letter-spacing="1">Th</text>
<text x="1034.7" y="33.5" font-size="22.5" fill="#000" stroke="#000" text-anchor="middle" letter-spacing="1">Fr</text>
<text x="1141.7" y="33.5" font-size="22.5" fill="#ff0000" stroke="#ff0000" text-anchor="middle" letter-spacing="1">Sa</text>
<text x="0" y="0" font-size="23" fill="#000" stroke="#000" text-anchor="middle" textLength="156.0" lengthAdjust="spacing" transform="translate(53.3 125.0) rotate(-90)">2m Temp. (°C)</text>
<text x="0" y="0" font-size="23" fill="#000" stroke="#000" text-anchor="middle" textLength="177.5" lengthAdjust="spacing" transform="translate(65.0 412.5) rotate(-90)">10m Wind (m/s)</text>
<text x="0" y="0" font-size="22" fill="#000" stroke="#000" text-anchor="middle" textLength="231.0" lengthAdjust="spacing" transform="translate(52.8 701.0) rotate(-90)">Energy fluxes (W/m<tspan font-size="14" dy="-9">2</tspan><tspan dy="9">)</tspan></text>
<text x="0" y="0" font-size="23" fill="#000" stroke="#000" text-anchor="middle" textLength="163.5" lengthAdjust="spacing" transform="translate(65.0 989.0) rotate(-90)">Precip (mm/h)</text>
<text x="0" y="0" font-size="23" fill="#000" stroke="#000" text-anchor="middle" textLength="189.0" lengthAdjust="spacing" transform="translate(52.2 1269.7) rotate(-90)">Snow height (cm)</text>
<polyline points="133.3,137.0 138.7,143.2 144.0,150.3 149.3,159.1 154.6,187.6 159.1,182.2 164.4,196.4 170.6,155.6 175.9,98.8 181.3,36.6 185.7,16.2 190.1,86.3 194.6,60.6 199.0,102.3 204.3,187.6 211.5,294.1 255.8,294.1 260.3,236.4 268.3,214.2 272.7,176.9 275.4,162.7 280.7,157.4 286.0,159.1 291.4,144.9 298.5,130.7 303.8,130.7 308.2,124.5 312.7,132.5 316.2,121.9 323.3,113.0 328.6,107.7 334.0,106.8 338.0,107.7 341.6,110.3 346.9,116.5 352.2,108.5 356.6,102.3 362.9,98.8 370.0,92.6 374.4,93.5 378.8,88.1 383.3,73.9 387.7,66.8 394.8,60.6 400.1,56.5 404.6,66.8 410.8,75.7 416.1,88.1 421.5,118.3 425.9,120.1 430.3,117.4 435.7,121.0 440.1,142.3 444.5,126.3 449.0,137.8 452.5,166.2 457.0,144.1 462.3,157.4 465.8,196.4 470.3,216.0 474.7,191.1 480.0,164.5 487.1,141.4 492.5,114.8 496.9,121.9 500.5,95.2 505.8,142.3 509.3,149.4 513.8,147.6 518.2,198.2 523.5,175.1 528.0,178.7 531.5,199.1 535.1,192.0 544.9,192.9 548.4,237.3 550.7,236.4 553.3,208.9 557.8,200.0 562.2,192.0 566.6,198.2 571.1,200.0 579.1,200.3 584.4,200.0 590.6,144.9 595.9,113.0 601.3,92.6 605.7,98.8 610.1,102.3 614.6,113.0 619.0,132.5 623.5,148.5 627.9,160.0 631.5,159.1 636.8,161.8 642.1,164.5 646.5,165.4 651.0,168.0 655.4,172.5 659.9,175.1 663.4,181.3 666.1,200.0 670.5,216.0 673.2,216.9 675.8,216.3 680.3,221.3 685.6,231.1 688.3,236.4 689.2,244.4 690.0,236.4 695.4,187.6 700.7,113.0 706.0,56.2 712.2,-7.8 718.5,33.1 722.9,72.1 726.4,118.3 729.1,164.5 731.8,205.3 736.2,226.6 741.5,236.4 747.7,258.6 754.0,236.4 758.0,229.3 762.4,227.0 766.9,229.8 771.3,236.4 784.6,276.3 797.1,236.4 802.4,169.8 807.7,98.8 811.3,54.4 818.0,-16.6 824.6,38.4 829.0,86.3 832.6,143.2 837.9,191.1 843.2,196.4 848.6,205.3 855.7,216.0 864.5,220.4 873.4,225.7 877.0,225.4 882.3,223.1 889.4,220.4 894.7,219.5 899.2,220.4 903.6,178.7 908.0,134.3 912.5,81.0 917.8,36.6 924.9,-25.5 932.9,42.0 936.4,84.6 940.0,116.5 943.5,140.5 947.1,121.0 951.5,118.3 954.2,136.1 956.9,150.3 960.4,147.6 964.2,131.0 965.5,125.6 969.7,123.6 973.5,124.4 978.5,124.4 982.4,152.0 986.9,181.3 991.3,123.6 995.8,116.5 1000.2,113.0 1004.6,116.5 1009.1,110.3 1013.5,93.5 1017.9,61.5 1022.4,27.8 1029.5,26.9 1034.8,34.9 1039.3,54.4 1041.9,89.9 1044.1,123.6 1049.0,113.9 1052.6,105.0 1056.1,157.4 1061.5,188.4 1065.9,181.3 1070.3,186.7 1075.7,189.3 1081.0,200.0 1086.3,212.4 1089.9,236.4 1100.5,276.3 1112.1,236.4 1114.7,201.8 1120.0,152.0 1124.5,116.5 1127.1,93.5 1131.6,94.3 1136.0,111.2 1140.5,117.4 1144.0,130.7 1148.5,144.9 1153.8,157.4 1158.2,164.5 1161.8,165.4 1166.2,159.1 1175.1,151.2 1179.5,151.5" fill="none" stroke="#228b22" stroke-width="1.1" stroke-linejoin="round" clip-path="url(#c0)"/>
<polyline points="133.3,134.3 138.7,139.6 144.0,144.9 149.3,157.4 154.6,176.9 159.1,177.8 164.4,187.6 170.6,180.5 175.9,171.6 181.3,160.9 185.7,150.3 190.1,153.8 194.6,148.5 200.8,157.4 206.1,169.8 211.5,187.6 216.8,192.0 222.1,194.7 227.4,196.4 231.0,196.4 236.3,192.0 241.6,190.2 248.7,189.3 254.1,187.6 259.4,182.2 264.7,178.7 270.0,176.0 275.4,167.1 280.7,166.2 286.0,162.7 291.4,153.8 298.5,141.4 305.6,130.7 312.7,118.3 319.8,105.9 326.9,98.8 334.0,97.9 338.0,97.0 346.9,93.5 352.2,91.3 360.2,92.6 364.6,90.8 370.0,87.2 374.4,89.0 378.8,87.2 383.3,75.7 387.7,69.5 394.8,66.5 400.1,67.7 405.5,72.1 411.7,78.4 416.1,88.1 421.5,112.1 425.9,112.1 430.3,111.2 437.4,116.5 446.3,126.3 453.4,136.1 462.3,144.9 469.4,153.8 474.7,160.6 480.0,160.6 488.0,161.3 492.5,156.5 496.9,160.9 501.4,154.7 505.8,157.4 510.2,166.2 514.7,168.0 518.2,177.8 523.5,175.1 531.5,189.3 536.9,187.6 544.0,190.2 548.0,195.5 553.3,192.0 557.8,189.3 562.2,185.8 566.6,190.2 571.1,192.9 579.1,194.7 585.3,192.9 591.5,191.1 596.8,189.3 601.3,178.7 610.1,166.2 619.0,156.5 627.9,153.5 633.2,153.8 638.6,157.4 644.8,160.6 650.1,163.6 654.5,168.0 662.5,171.6 671.4,185.8 679.4,191.1 689.2,198.2 693.6,195.5 698.9,182.2 706.0,162.7 712.2,148.5 716.7,141.4 720.2,143.2 725.6,153.8 732.7,180.5 738.0,202.6 742.4,198.2 746.9,186.7 750.4,187.2 754.9,191.1 758.0,190.2 763.3,186.7 768.7,192.9 775.8,201.8 784.6,208.9 794.4,216.9 798.8,212.4 804.2,194.7 811.3,169.8 818.4,144.9 825.5,131.6 829.0,132.5 833.5,140.5 842.3,145.8 846.8,153.8 855.7,166.2 864.5,173.4 873.4,179.6 878.7,181.9 885.8,183.1 891.2,183.1 899.2,184.9 903.6,177.8 908.9,155.6 916.0,134.3 924.9,109.4 930.2,94.3 935.6,102.3 943.5,115.6 950.6,118.3 955.1,121.9 960.4,125.4 965.1,121.5 969.3,119.4 974.3,118.5 978.5,117.3 982.7,121.5 986.9,126.3 991.3,111.2 995.8,107.7 1000.2,105.9 1004.6,108.5 1009.1,111.2 1013.5,108.5 1022.4,95.2 1031.3,86.0 1037.5,88.1 1043.7,98.8 1052.6,106.8 1058.8,120.1 1065.0,146.7 1070.3,166.2 1076.5,175.1 1082.8,181.3 1088.1,187.6 1095.2,199.1 1100.5,199.6 1105.0,197.0 1109.4,199.6 1114.7,191.1 1120.0,174.2 1125.4,153.8 1131.6,139.6 1136.0,137.0 1139.6,137.8 1144.0,141.4 1150.2,147.6 1157.3,155.9 1162.7,157.4 1167.1,149.4 1175.1,141.4 1179.5,141.4" fill="none" stroke="#00ff00" stroke-width="1.1" stroke-linejoin="round" clip-path="url(#c0)"/>
<polyline points="133.3,117.4 138.7,127.2 144.0,134.3 149.3,150.3 154.6,173.4 160.0,182.2 165.3,188.4 170.6,182.2 175.9,166.2 181.3,144.9 185.7,129.0 190.1,134.3 194.6,126.3 199.0,132.5 204.3,148.5 211.5,178.7 216.8,183.1 220.3,180.5 225.7,185.8 229.2,187.6 234.5,185.8 238.1,187.6 243.4,184.0 248.7,182.2 254.1,182.2 259.4,180.5 268.3,176.9 273.6,166.2 278.9,160.9 282.5,159.1 287.8,148.5 293.1,134.3 298.5,118.3 305.6,100.6 312.7,86.3 319.8,75.7 325.1,68.6 330.4,61.5 334.9,59.4 338.0,59.4 346.9,60.6 352.2,58.3 360.2,61.1 364.6,59.4 370.0,51.7 374.4,53.5 378.8,49.9 383.3,29.5 387.7,24.2 394.8,22.4 400.1,21.0 405.5,27.8 413.5,42.0 417.9,65.0 421.5,89.9 425.9,90.8 430.3,86.7 437.4,95.2 446.3,104.1 453.4,116.5 462.3,129.0 469.4,143.2 474.7,149.4 480.0,151.2 488.0,151.2 492.5,146.7 496.9,148.5 500.5,142.8 504.9,148.5 509.3,155.6 513.8,157.4 519.1,167.1 524.4,170.7 531.5,190.2 536.9,191.1 544.0,192.9 548.0,200.9 553.3,201.8 557.8,198.2 562.2,192.0 566.6,199.1 571.1,203.5 579.1,204.4 585.3,200.9 591.5,197.3 596.8,192.0 601.3,177.8 610.1,164.5 619.0,150.3 627.9,146.7 633.2,147.1 638.6,152.0 644.8,155.6 650.1,160.9 654.5,166.2 662.5,172.5 671.4,191.1 679.4,196.4 689.2,208.0 693.6,202.6 698.9,173.4 706.0,127.2 712.2,105.9 716.7,99.7 720.2,100.6 725.6,114.8 732.7,146.7 738.0,166.2 742.4,172.5 750.4,172.5 754.9,171.6 758.0,165.4 763.3,162.3 768.7,166.2 775.8,182.2 784.6,198.2 794.4,208.0 798.8,200.0 804.2,169.8 811.3,134.3 817.5,98.8 821.0,86.3 825.1,82.4 829.0,89.0 834.3,101.4 841.5,111.2 846.8,120.1 855.7,144.9 864.5,157.4 873.4,169.8 878.7,171.9 885.8,170.7 891.2,170.7 899.2,173.4 903.6,162.7 908.9,125.4 916.0,89.9 924.9,50.8 930.2,41.1 935.6,59.7 942.7,86.3 948.0,90.8 951.5,91.7 956.0,101.4 960.4,102.3 964.9,96.5 969.3,95.3 972.6,96.1 974.3,96.5 978.5,94.9 982.7,101.8 986.9,111.2 991.3,85.5 995.8,81.9 1000.2,81.0 1004.6,85.5 1009.1,88.1 1013.5,85.5 1017.9,70.4 1022.4,57.1 1029.5,46.4 1034.8,40.5 1039.3,42.0 1044.6,61.5 1052.6,73.0 1058.8,93.5 1065.0,125.4 1070.3,141.4 1076.5,153.8 1082.8,164.5 1088.1,175.1 1094.3,197.3 1098.7,203.5 1104.1,206.2 1109.4,211.0 1114.7,199.1 1120.0,175.1 1125.4,150.3 1131.6,127.2 1136.0,123.3 1139.6,124.5 1144.0,130.7 1150.2,142.3 1157.3,154.7 1162.7,157.0 1167.1,146.7 1175.1,134.8 1179.5,135.2" fill="none" stroke="#0000ff" stroke-width="1.1" stroke-linejoin="round" clip-path="url(#c0)"/>
<polyline points="133.3,126.3 140.4,134.3 145.8,144.9 151.1,159.1 156.4,169.8 163.5,174.2 170.6,174.2 175.9,164.5 181.3,144.9 185.7,130.7 190.1,134.3 194.6,129.8 200.8,137.8 206.1,152.0 211.5,166.2 216.8,170.7 220.3,168.9 225.7,172.5 231.0,173.4 234.5,172.5 238.1,175.1 243.4,172.5 248.7,170.7 252.3,170.7 257.6,172.5 262.9,172.5 268.3,170.7 273.6,160.9 278.9,156.5 282.5,155.6 287.8,146.7 291.4,137.8 298.5,121.9 305.6,113.0 312.7,104.1 319.8,95.2 325.1,89.9 330.4,84.6 334.9,82.8 338.0,83.7 346.9,86.3 352.2,85.5 360.2,87.2 364.6,85.5 370.0,81.0 374.4,81.9 378.8,78.4 383.3,66.8 387.7,62.4 393.0,61.5 400.1,59.4 405.5,64.2 413.5,74.8 417.9,89.9 422.3,107.7 426.8,108.5 430.3,105.0 437.4,109.4 446.3,115.6 453.4,123.6 462.3,132.5 469.4,143.2 474.7,147.6 480.0,149.4 488.0,149.0 492.5,145.8 496.9,146.7 500.5,143.2 504.9,146.7 510.2,152.0 513.8,152.9 517.3,157.4 522.7,162.7 531.5,176.9 536.9,179.6 544.0,179.6 548.0,185.8 553.3,187.6 557.8,185.8 562.2,181.3 566.6,185.8 571.1,190.2 579.1,190.8 585.3,188.4 591.5,184.9 596.8,181.3 601.3,171.6 610.1,160.0 619.0,150.3 627.9,147.6 633.2,148.1 638.6,151.2 644.8,154.7 650.1,158.3 654.5,162.7 662.5,166.2 671.4,180.5 679.4,184.9 689.2,192.0 693.6,188.4 698.9,159.1 706.0,125.4 712.2,110.3 716.7,105.9 720.2,106.8 725.6,116.5 732.7,146.7 739.8,156.5 745.1,160.0 750.4,161.8 754.9,159.1 758.0,152.0 763.3,151.2 768.7,154.7 775.8,168.0 784.6,180.5 794.4,187.2 798.8,180.5 804.2,157.4 811.3,127.2 817.5,102.3 821.0,94.3 825.5,92.0 829.0,95.2 834.3,105.9 841.5,114.8 846.8,123.6 855.7,141.4 864.5,152.0 873.4,160.9 878.7,161.8 885.8,160.0 891.2,160.0 899.2,162.7 903.6,154.7 908.9,134.3 916.0,109.4 924.9,82.8 930.2,67.2 935.6,81.0 942.7,103.2 948.0,105.9 951.5,106.8 956.0,113.0 960.4,114.8 965.1,110.6 969.3,109.5 972.6,110.8 974.3,111.2 978.5,110.6 982.7,116.0 986.9,122.7 991.3,105.9 995.8,102.3 1000.2,101.4 1004.6,105.0 1009.1,106.8 1013.5,104.1 1022.4,84.6 1029.5,75.7 1035.7,70.0 1039.3,70.7 1043.7,82.8 1049.0,89.9 1053.5,93.5 1059.7,114.8 1065.9,132.5 1072.1,141.4 1077.4,148.5 1082.8,159.1 1088.1,167.1 1093.4,180.5 1098.7,188.4 1104.1,191.1 1109.4,195.5 1114.7,187.6 1120.0,169.8 1125.4,150.3 1131.6,135.2 1136.0,130.7 1139.6,132.2 1144.0,137.0 1150.2,144.9 1157.3,155.6 1162.7,157.0 1168.0,148.5 1175.1,141.4 1179.5,141.0" fill="none" stroke="#ff0000" stroke-width="1.55" stroke-linejoin="round" clip-path="url(#c0)"/>
<polyline points="133.0,314.0 136.9,325.5 141.3,322.0 145.8,331.7 150.2,344.2 154.6,347.7 159.1,366.4 163.5,372.6 167.9,376.1 172.4,394.8 176.8,392.5 181.3,411.6 185.7,419.6 190.1,413.8 194.6,418.7 199.0,425.0 202.6,443.6 207.0,439.2 211.5,423.2 215.9,404.5 220.3,394.8 224.8,387.7 230.1,374.3 235.4,362.8 242.5,355.7 246.1,357.5 251.4,364.6 255.8,365.5 262.9,366.0 268.3,364.6 272.7,362.3 277.1,365.8 281.6,361.9 286.0,356.6 290.5,352.7 294.9,356.6 299.3,363.3 303.8,363.7 308.2,365.8 312.7,362.8 317.1,360.5 321.5,366.4 326.9,374.3 334.9,387.7 338.0,390.3 342.4,387.7 347.8,377.0 352.2,372.6 356.6,372.6 361.1,388.6 365.5,393.0 370.0,386.4 374.4,386.4 377.9,368.1 382.4,335.3 386.8,339.7 391.3,351.3 395.7,366.4 400.1,345.1 404.6,333.2 409.0,342.4 413.5,339.2 417.0,414.3 421.5,425.5 426.2,456.9 430.3,432.1 434.8,402.4 439.2,403.1 444.0,409.9 448.1,400.1 452.5,396.2 457.0,388.9 461.4,390.3 465.8,394.8 470.3,392.5 474.7,395.3 479.2,392.1 483.6,385.0 488.0,373.5 492.5,376.5 496.0,358.4 501.4,366.9 505.8,365.1 510.2,361.9 514.7,348.1 519.1,358.7 522.7,339.2 527.1,368.1 531.5,374.3 536.0,374.0 540.4,372.2 544.9,387.7 548.0,391.2 553.3,400.1 557.8,430.3 562.2,394.8 566.6,402.8 571.1,411.3 575.5,392.1 580.0,380.6 584.4,369.0 588.8,356.6 593.3,347.7 596.8,345.1 601.3,328.5 605.7,328.5 610.1,336.2 614.6,346.3 619.0,345.9 623.5,343.3 627.9,342.4 632.3,345.1 636.8,353.9 641.2,368.1 645.7,379.7 650.1,387.1 654.5,390.0 659.0,393.9 663.4,403.6 667.8,411.6 672.3,416.4 681.2,419.4 689.2,422.3 693.6,414.3 698.0,404.5 702.5,394.8 706.9,392.5 711.4,394.4 715.8,394.4 720.2,393.0 724.7,392.1 729.1,393.9 733.5,386.8 738.0,378.8 742.4,371.3 746.9,370.3 750.4,372.9 754.9,366.4 758.0,358.4 760.7,355.7 764.2,356.6 767.8,364.1 772.2,367.2 776.6,372.6 781.1,375.2 785.5,369.9 790.0,364.6 794.4,364.2 798.8,364.1 803.3,362.5 807.7,363.7 812.2,363.7 816.6,366.4 821.0,373.5 825.5,378.8 829.9,382.3 834.3,378.4 838.3,371.3 842.3,373.5 846.8,380.9 851.2,382.7 855.7,381.5 860.1,380.6 864.5,380.6 869.0,384.1 873.4,389.4 878.7,394.8 884.1,402.2 889.4,410.4 894.7,417.0 900.0,423.2 904.5,425.5 908.9,425.5 913.4,424.1 917.8,427.6 922.2,433.8 925.8,437.4 930.2,441.8 934.7,453.7 939.1,460.5 943.5,464.9 948.0,468.8 952.4,471.1 956.9,474.7 961.3,483.5 965.7,492.4 970.0,501.3 973.7,499.3 978.0,492.4 982.4,490.6 986.9,487.1 991.3,476.4 995.8,481.8 1000.2,482.3 1004.6,476.4 1009.1,470.2 1013.5,464.0 1017.9,453.4 1022.4,445.4 1026.8,438.3 1031.3,438.3 1035.7,440.0 1040.1,439.2 1044.6,436.5 1049.0,428.5 1053.5,414.3 1057.0,402.8 1061.5,402.4 1065.9,401.9 1070.3,402.4 1075.3,399.2 1079.2,401.9 1083.6,406.3 1088.1,410.7 1092.5,422.3 1097.0,429.7 1101.4,434.7 1105.8,440.0 1110.3,448.0 1114.7,449.8 1119.2,453.4 1123.2,460.1 1127.1,457.8 1131.6,454.8 1136.0,454.6 1140.5,452.5 1144.9,450.7 1149.3,459.2 1153.8,460.5 1158.2,460.5 1162.7,489.8 1166.6,461.4 1171.2,480.9 1175.1,467.6 1179.5,465.3" fill="none" stroke="#0000ff" stroke-width="1.1" stroke-linejoin="round" clip-path="url(#c1)"/>
<polyline points="133.0,362.8 136.9,370.8 141.3,368.7 145.8,377.9 150.2,386.8 154.6,388.9 159.1,407.2 163.5,403.6 167.9,410.7 172.4,425.0 176.8,423.2 181.3,438.3 185.7,443.9 190.1,439.2 194.6,442.7 199.0,448.0 202.6,462.2 207.0,458.7 211.5,447.1 215.9,432.9 220.3,425.0 224.8,419.6 230.1,409.0 235.4,401.0 242.5,394.8 246.1,395.7 251.4,401.5 255.8,402.2 262.9,402.8 268.3,401.5 272.7,399.6 277.1,402.8 281.6,400.1 286.0,395.7 290.5,392.5 294.9,395.7 299.3,400.6 303.8,400.6 308.2,402.8 312.7,400.1 317.1,398.3 321.5,402.8 326.9,409.0 334.9,418.7 338.0,421.4 342.4,418.7 347.8,410.7 352.2,407.7 356.6,408.1 361.1,420.2 365.5,423.2 370.0,418.4 374.4,418.4 377.9,404.5 382.4,378.8 386.8,382.3 391.3,392.1 395.7,403.6 400.1,385.0 404.6,377.0 409.0,384.6 413.5,381.5 417.0,440.0 421.5,448.9 426.2,472.9 430.3,454.2 434.8,430.3 439.2,431.2 444.0,436.8 448.1,429.4 452.5,425.8 457.0,420.2 461.4,421.4 465.8,424.6 470.3,422.6 474.7,425.1 479.2,423.2 483.6,417.8 488.0,408.1 492.5,410.7 496.0,396.5 501.4,403.3 505.8,401.9 510.2,399.2 514.7,388.6 519.1,397.4 522.7,382.3 527.1,404.5 531.5,409.0 536.0,408.4 540.4,407.2 544.9,419.6 548.0,422.3 553.3,429.0 557.8,453.4 562.2,424.4 566.6,431.2 571.1,438.3 575.5,422.3 580.0,412.5 584.4,402.8 588.8,393.9 593.3,387.7 596.8,386.2 601.3,373.5 605.7,373.8 610.1,379.7 614.6,387.7 619.0,387.3 623.5,385.0 627.9,384.5 632.3,386.8 636.8,393.9 641.2,404.5 645.7,413.4 650.1,419.6 654.5,421.8 659.0,425.0 663.4,431.2 667.8,437.4 672.3,441.5 681.2,443.9 689.2,445.9 693.6,440.0 698.0,432.9 702.5,425.0 706.9,422.8 711.4,424.1 715.8,424.1 720.2,423.2 724.7,422.3 729.1,424.1 733.5,418.7 738.0,413.4 742.4,407.2 746.9,405.8 750.4,408.1 754.9,402.8 758.0,396.5 760.7,394.8 764.2,395.7 767.8,400.6 772.2,403.1 776.6,407.7 781.1,409.9 785.5,405.8 790.0,401.9 794.4,401.0 798.8,401.0 803.3,400.1 807.7,400.6 812.2,400.6 816.6,402.8 821.0,409.0 825.5,412.5 829.9,415.2 834.3,412.0 838.3,406.7 842.3,408.1 846.8,414.3 851.2,415.2 855.7,414.3 860.1,413.8 864.5,413.9 869.0,417.0 873.4,420.5 878.7,424.4 884.1,430.3 889.4,436.5 894.7,440.9 900.0,445.7 904.5,448.4 908.9,448.4 913.4,447.1 917.8,449.8 922.2,454.2 925.8,456.9 930.2,460.5 934.7,469.9 939.1,475.2 943.5,478.8 948.0,481.8 952.4,483.5 956.9,486.6 961.3,492.4 965.7,499.5 970.0,506.6 973.7,505.2 978.0,500.4 982.4,498.6 986.9,495.1 991.3,487.6 995.8,491.2 1000.2,492.1 1004.6,487.6 1009.1,482.7 1013.5,478.2 1017.9,470.2 1022.4,464.0 1026.8,458.3 1031.3,458.3 1035.7,459.6 1040.1,458.7 1044.6,456.9 1049.0,449.8 1053.5,439.2 1057.0,430.8 1061.5,430.3 1065.9,429.9 1070.3,429.9 1075.3,428.1 1079.2,430.3 1083.6,433.8 1088.1,437.4 1092.5,446.3 1097.0,451.6 1101.4,455.7 1105.8,460.1 1110.3,465.4 1114.7,467.0 1119.2,469.9 1123.2,475.2 1127.1,473.4 1131.6,470.6 1136.0,470.6 1140.5,469.3 1144.9,468.1 1149.3,474.1 1153.8,475.0 1158.2,475.2 1162.7,498.6 1166.6,476.4 1171.2,491.5 1175.1,480.9 1179.5,479.1" fill="none" stroke="#ff0000" stroke-width="1.5" stroke-linejoin="round" clip-path="url(#c1)"/>
<polyline points="133.0,813.0 163.5,813.0 167.9,800.8 172.4,781.3 175.9,745.8 180.9,667.7 185.2,662.3 189.8,761.8 194.1,697.9 198.7,763.6 202.6,781.3 207.4,813.0 269.2,813.0 272.7,788.4 277.5,779.5 281.6,785.7 286.0,792.5 290.5,794.1 294.9,792.0 299.3,795.5 303.8,803.0 308.2,804.7 312.7,813.0 373.5,813.0 377.9,808.8 382.4,805.6 386.8,804.9 391.3,803.0 395.7,800.8 400.1,799.4 404.6,804.0 409.0,806.2 413.5,809.4 417.4,813.0 479.2,813.0 483.6,804.4 488.0,795.5 492.1,776.9 496.6,781.7 500.8,764.4 505.3,800.0 509.7,798.7 514.1,797.3 518.6,791.1 522.7,813.0 584.4,813.0 588.8,800.0 593.3,774.2 597.4,745.8 601.3,730.7 605.7,748.5 610.1,756.8 614.6,770.7 619.0,790.2 623.5,803.5 627.9,813.0 689.2,813.0 693.6,786.6 698.0,745.8 702.5,708.5 706.9,678.3 711.4,670.9 715.8,680.1 720.2,706.7 724.7,744.0 729.1,790.2 732.7,813.0 794.4,813.0 798.8,786.6 803.3,742.2 807.4,701.4 811.8,676.9 816.2,669.8 820.7,681.0 825.1,706.7 829.6,742.2 833.5,790.2 837.9,813.0 899.5,813.0 903.6,790.2 908.0,744.9 912.5,729.8 916.9,724.5 921.4,706.7 925.8,696.1 930.2,718.3 934.7,786.6 939.1,803.5 943.2,813.0 1004.6,813.0 1009.1,805.3 1013.5,795.5 1017.9,782.2 1022.0,756.8 1026.5,762.1 1030.9,762.7 1035.4,771.5 1039.8,780.4 1044.1,795.5 1048.1,813.0 1109.7,813.0 1114.2,800.8 1118.6,788.4 1123.1,776.9 1127.5,759.6 1131.6,772.4 1136.0,787.5 1140.5,793.7 1144.9,805.3 1149.3,811.1 1153.8,813.0 1179.5,813.0" fill="none" stroke="#ff0000" stroke-width="1.5" stroke-linejoin="round" clip-path="url(#c2)"/>
<polyline points="133.1,812.8 163.2,812.8 167.5,751.1 171.9,689.5 176.3,642.2 180.7,612.5 185.1,602.3 189.5,612.5 193.8,642.2 198.2,689.5 202.6,751.1 207.0,812.8 268.4,812.8 272.7,753.2 277.1,691.6 281.5,644.4 285.9,614.7 290.3,604.6 294.7,614.7 299.0,644.4 303.4,691.6 307.8,753.2 312.2,812.8 373.6,812.8 377.9,755.4 382.3,694.1 386.7,647.0 391.1,617.4 395.5,607.3 399.9,617.4 404.2,647.0 408.6,694.1 413.0,755.4 417.4,812.8 478.8,812.8 483.1,757.5 487.5,696.1 491.9,649.0 496.3,619.5 500.7,609.4 505.1,619.5 509.4,649.0 513.8,696.1 518.2,757.5 522.6,812.8 584.0,812.8 588.3,759.7 592.7,698.6 597.1,651.7 601.5,622.2 605.9,612.1 610.3,622.2 614.6,651.7 619.0,698.6 623.4,759.7 627.8,812.8 689.2,812.8 693.5,761.7 697.9,700.4 702.3,653.4 706.7,623.9 711.1,613.8 715.5,623.9 719.8,653.4 724.2,700.4 728.6,761.7 733.0,812.8 794.4,812.8 798.7,763.8 803.1,702.7 807.5,655.8 811.9,626.3 816.3,616.2 820.7,626.3 825.0,655.8 829.4,702.7 833.8,763.8 838.2,812.8 899.6,812.8 903.9,765.9 908.3,704.7 912.7,657.8 917.1,628.3 921.5,618.3 925.9,628.3 930.2,657.8 934.6,704.7 939.0,765.9 943.4,812.8 1004.8,812.8 1009.1,767.9 1013.5,706.8 1017.9,659.9 1022.3,630.4 1026.7,620.3 1031.1,630.4 1035.4,659.9 1039.8,706.8 1044.2,767.9 1048.6,812.8 1110.0,812.8 1114.3,770.1 1118.7,709.1 1123.1,662.2 1127.5,632.8 1131.9,622.7 1136.3,632.8 1140.6,662.2 1145.0,709.1 1149.4,770.1 1153.8,812.8 1180.7,812.8" fill="none" stroke="#228b22" stroke-width="1.1" stroke-linejoin="round" clip-path="url(#c2)"/>
<polyline points="133.0,694.8 138.7,695.7 145.8,697.0 150.2,697.5 154.6,703.2 159.1,698.7 163.5,703.5 167.9,700.5 172.4,701.1 176.8,708.5 180.9,727.2 185.2,726.3 189.8,696.1 194.1,727.2 198.7,706.7 202.6,724.5 207.0,726.3 211.5,728.0 216.8,728.9 225.7,729.3 234.5,729.3 243.4,728.9 250.5,728.0 255.8,727.5 260.3,721.8 264.7,715.6 270.0,713.3 275.4,711.2 281.6,708.2 287.8,707.3 294.9,705.8 299.3,704.1 303.8,701.4 308.2,700.2 312.7,701.4 317.1,697.9 321.5,696.6 326.0,695.7 330.4,696.1 338.0,697.0 342.4,697.5 347.2,700.0 351.8,696.4 356.6,693.1 361.1,692.0 365.5,691.6 370.0,691.3 374.4,691.1 378.8,690.8 383.3,690.4 387.7,690.2 392.2,689.9 396.6,690.2 401.0,690.8 405.5,690.8 409.9,691.1 414.3,691.3 418.8,691.6 421.5,693.4 426.8,693.8 431.2,693.8 434.8,694.0 439.6,702.3 444.0,694.8 448.1,697.0 452.5,708.2 457.0,697.0 461.4,699.6 465.8,717.4 470.3,722.2 474.7,710.3 479.2,697.9 483.6,697.9 488.0,697.5 492.5,698.4 496.9,698.2 501.4,698.2 505.8,697.5 510.2,699.1 513.8,698.7 518.6,722.4 522.7,699.1 527.1,699.3 531.5,704.3 536.0,700.0 540.4,700.5 544.9,701.1 550.0,727.2 552.4,705.0 556.9,700.0 562.2,699.3 566.6,700.9 571.1,700.2 575.5,700.2 580.0,700.2 584.4,700.2 588.8,701.1 593.3,705.0 597.7,707.1 601.3,705.8 605.7,700.5 610.1,699.3 614.6,698.2 619.0,697.5 624.3,697.5 629.7,697.3 636.8,697.9 642.1,697.5 647.4,697.3 652.8,697.5 657.2,697.9 662.5,700.5 667.0,709.4 671.4,710.8 675.8,709.4 680.3,710.6 684.7,713.0 689.2,717.4 693.6,722.7 698.0,723.8 702.5,722.9 707.8,723.1 713.1,723.1 718.5,722.9 723.8,723.1 729.1,724.0 733.5,725.4 738.0,726.3 742.4,726.6 748.6,726.1 754.0,725.6 758.0,725.0 766.9,724.8 775.8,725.7 784.6,726.3 793.5,727.2 799.7,727.5 804.2,727.2 811.3,725.4 819.3,723.8 826.4,722.9 834.3,722.7 841.5,722.7 848.6,722.9 854.8,723.2 862.8,721.7 871.6,720.6 880.5,719.2 889.4,717.7 898.3,717.0 907.1,716.5 912.5,710.3 917.3,705.3 921.4,708.2 925.8,712.1 929.3,712.1 934.7,702.7 939.1,701.8 943.5,703.2 948.0,694.0 952.4,692.5 956.9,703.2 961.3,701.1 965.7,693.6 970.0,692.9 978.0,692.2 982.4,705.8 987.2,709.4 991.3,694.7 995.8,692.5 1000.2,691.3 1004.6,691.6 1009.1,692.9 1013.5,692.5 1017.9,692.5 1022.4,693.1 1026.8,692.0 1031.3,692.5 1035.7,692.9 1040.1,696.4 1044.1,712.4 1048.5,697.0 1052.9,692.2 1057.4,715.6 1061.8,718.8 1066.2,711.2 1070.7,711.2 1075.3,710.3 1079.6,710.6 1084.0,712.4 1088.1,715.3 1092.5,725.9 1097.0,726.3 1101.4,726.3 1105.8,725.4 1110.3,723.1 1114.4,711.5 1118.8,708.5 1123.2,705.0 1127.7,700.0 1132.1,696.6 1136.6,695.7 1141.0,695.6 1145.4,695.2 1149.9,695.7 1154.3,697.0 1158.8,697.3 1163.2,696.4 1167.6,696.4 1172.1,695.7 1176.5,695.7 1179.5,696.1" fill="none" stroke="#0000ff" stroke-width="1.65" stroke-linejoin="round" clip-path="url(#c2)"/>
<polyline points="133.0,1076.4 137.2,1001.8 141.3,1039.1 145.8,1087.1 150.2,1096.8 154.6,1099.8 159.1,1092.0 163.5,1099.8 167.9,1099.8 172.4,1098.6 176.8,1100.4 261.2,1100.4 266.5,1099.8 270.0,1100.4 328.6,1100.4 334.0,1098.6 338.0,1094.2 343.3,1089.7 347.8,1084.4 352.2,1065.8 356.6,1042.7 360.7,1035.2 365.0,1044.5 369.4,1058.7 374.0,1078.2 378.5,1095.9 382.7,1087.1 386.8,1042.7 391.3,987.6 395.7,966.3 400.1,1032.9 404.6,1029.7 409.0,1044.5 413.5,1063.1 417.9,992.1 422.3,1062.2 426.4,1044.5 430.7,1089.7 435.1,1060.4 439.6,1099.5 444.5,1100.4 462.3,1100.0 471.2,1100.0 475.6,1097.7 480.0,1095.1 483.6,1093.8 488.0,1095.9 492.5,1094.2 496.0,1095.1 500.5,1071.1 504.9,1074.6 509.3,1093.3 513.8,1092.4 518.2,1097.7 522.7,1092.4 527.1,1065.8 531.5,1098.6 536.0,1098.1 540.4,1099.5 548.0,1100.4 553.3,1096.8 557.8,1081.7 562.2,1097.7 566.6,1095.1 571.1,1072.9 575.5,1097.4 579.6,1096.3 584.4,1098.1 592.4,1099.8 601.3,1099.8 606.6,1098.6 611.0,1095.9 615.5,1094.2 619.9,1095.1 624.3,1097.4 629.7,1098.6 636.8,1099.8 654.5,1100.4 978.0,1100.4 992.2,1100.4 995.8,1098.6 1004.6,1093.8 1013.5,1097.4 1020.6,1100.4 1123.6,1100.4 1128.9,1099.1 1136.0,1096.3 1140.5,1099.8 1144.9,1085.3 1149.3,1049.8 1153.8,1029.9 1158.2,1030.2 1162.7,1001.8 1166.7,1067.5 1171.2,1038.2 1175.6,1031.1 1180.1,1043.6" fill="none" stroke="#228b22" stroke-width="1.1" stroke-linejoin="round" clip-path="url(#c3)"/>
<line x1="133.0" y1="1100.4" x2="1179.0" y2="1100.4" stroke="#0a0ad0" stroke-width="1.2"/>
<polyline points="133.0,1098.6 137.2,1088.8 141.3,1081.7 145.8,1080.9 154.6,1080.3 159.1,1079.6 172.4,1079.4 234.5,1079.4 305.6,1079.4 328.6,1079.4 334.9,1078.7 338.0,1079.1 343.3,1077.3 350.4,1074.6 355.8,1069.3 361.1,1062.2 365.5,1056.0 370.0,1051.6 374.4,1049.4 378.8,1048.9 383.3,1047.1 386.8,1040.9 391.3,1030.2 395.7,1016.0 400.1,1008.9 404.6,1002.7 409.0,996.5 413.5,992.6 417.9,982.3 422.3,977.5 426.8,972.5 431.2,970.8 435.7,966.9 444.5,966.9 453.4,966.7 462.3,966.5 471.2,966.3 476.5,966.0 480.0,965.4 485.4,964.9 491.6,964.2 496.0,963.7 500.5,961.0 504.9,958.7 510.2,957.5 513.8,956.7 520.9,956.0 527.1,952.7 533.3,952.1 542.2,951.8 548.0,952.1 552.4,951.6 556.9,950.0 565.8,949.1 571.1,946.3 579.1,945.6 587.9,945.0 601.3,944.7 610.1,944.1 619.0,943.2 627.9,942.7 645.7,942.4 663.4,942.4 681.2,942.4 707.8,942.2 760.0,942.2 978.0,942.7 992.2,942.7 999.3,941.8 1008.2,940.8 1022.4,940.4 1075.7,940.4 1102.3,940.4 1128.9,940.1 1140.5,939.3 1144.9,937.9 1149.3,932.6 1153.8,925.5 1158.2,918.4 1162.7,909.5 1167.1,906.0 1171.5,899.7 1176.0,893.2 1180.1,887.3" fill="none" stroke="#ff0000" stroke-width="1.5" stroke-linejoin="round" clip-path="url(#c3)"/>
<text x="141.0" y="144.3" font-size="22" fill="#ff0000" stroke="#ff0000" textLength="146.5" lengthAdjust="spacing">Temperature</text>
<text x="141.0" y="171.2" font-size="22" fill="#008000" stroke="#008000" textLength="129.0" lengthAdjust="spacing">Vigne temp</text>
<text x="141.0" y="199.6" font-size="22" fill="#0000ff" stroke="#0000ff" textLength="99.0" lengthAdjust="spacing">Humidex</text>
<text x="141.0" y="227.2" font-size="22" fill="#00ff00" stroke="#00ff00" textLength="175.5" lengthAdjust="spacing">DewPoint Temp</text>
<text x="991.0" y="227.5" font-size="20.5" fill="#000" stroke="#000" textLength="178.0" lengthAdjust="spacing">run: 2025103006</text>
<text x="141.0" y="348.6" font-size="22" fill="#ff0000" stroke="#ff0000" textLength="126.0" lengthAdjust="spacing">Wind speed</text>
<text x="141.0" y="376.1" font-size="22" fill="#0000ff" stroke="#0000ff" textLength="112.0" lengthAdjust="spacing">Wind gust</text>
<text x="140.8" y="636.6" font-size="22" fill="#ff0000" stroke="#ff0000" textLength="58.0" lengthAdjust="spacing">Solar</text>
<text x="140.8" y="664.1" font-size="22" fill="#0000ff" stroke="#0000ff" textLength="93.5" lengthAdjust="spacing">Infrared</text>
<text x="140.8" y="692.5" font-size="22" fill="#008000" stroke="#008000" textLength="306.0" lengthAdjust="spacing">Top of Atmosphere (Solar)</text>
<text x="140.4" y="924.6" font-size="22" fill="#008000" stroke="#008000" textLength="256.5" lengthAdjust="spacing">Liquid precip (mm/h)</text>
<text x="140.4" y="952.1" font-size="22" fill="#0000ff" stroke="#0000ff" textLength="244.0" lengthAdjust="spacing">Snow precip (mm/h)</text>
<text x="140.4" y="980.2" font-size="22" fill="#ff0000" stroke="#ff0000" textLength="253.5" lengthAdjust="spacing">Total cumulated (cm)</text>
<line x1="131" y1="1270.0" x2="1179" y2="1270.0" stroke="#ff0000" stroke-width="1.6"/>
<text x="138.9" y="1200.9" font-size="22" fill="#ff0000" stroke="#ff0000" textLength="202.0" lengthAdjust="spacing">Snow height (cm)</text>
<text x="138.9" y="1228.5" font-size="22" fill="#0000ff" stroke="#0000ff" textLength="257.0" lengthAdjust="spacing">Snow height (cm W.E.)</text>
<path d="M117.0 1165.4H1194.0M117.0 1374.6H1194.0" stroke="#2a2a2a" stroke-width="1" fill="none"/>
<path d="M129.4 1159.5V1386.6M1182.6 1159.5V1386.6" stroke="#383838" stroke-width="1" fill="none"/>
<path d="M235.8 1159.5V1165.4M235.8 1374.6V1386.1M446.1 1159.5V1165.4M446.1 1374.6V1386.1M551.3 1159.5V1165.4M551.3 1374.6V1386.1M656.5 1159.5V1165.4M656.5 1374.6V1386.1M761.7 1159.5V1165.4M761.7 1374.6V1386.1M866.9 1159.5V1165.4M866.9 1374.6V1386.1M972.0 1159.5V1165.4M972.0 1374.6V1386.1M1077.2 1159.5V1165.4M1077.2 1374.6V1386.1" stroke="#2a2a2a" stroke-width="1" fill="none"/>
<path d="M117 1270.0H129.4M1182.6 1270.0H1194" stroke="#2a2a2a" stroke-width="1" fill="none"/>
<line x1="339.4" y1="1154" x2="339.4" y2="1165.5" stroke="#222" stroke-width="1"/>
<line x1="339.4" y1="1374.6" x2="339.4" y2="1386.5" stroke="#222" stroke-width="1"/>
<line x1="339.4" y1="1165.5" x2="339.4" y2="1374.6" stroke="#222" stroke-width="1" stroke-dasharray="3 4.3"/>
<text x="106.8" y="1276.8" font-size="20" fill="#000" stroke="#000" text-anchor="end" letter-spacing="1.6">0.00</text>
<text x="184.7" y="1365.7" font-size="22.5" fill="#000" stroke="#000" text-anchor="middle" letter-spacing="1">Th</text>
<text x="182.7" y="1399.3" font-size="14.3" fill="#000" stroke="#000" text-anchor="middle" font-weight="bold" letter-spacing="2.4">30</text>
<text x="285.2" y="1365.7" font-size="22.5" fill="#000" stroke="#000" text-anchor="middle" letter-spacing="1">Fr</text>
<text x="287.2" y="1399.3" font-size="14.3" fill="#000" stroke="#000" text-anchor="middle" font-weight="bold" letter-spacing="2.4">31</text>
<text x="389.9" y="1365.7" font-size="22.5" fill="#ff0000" stroke="#ff0000" text-anchor="middle" letter-spacing="1">Sa</text>
<text x="393.1" y="1399.3" font-size="14.3" fill="#000" stroke="#000" text-anchor="middle" font-weight="bold" letter-spacing="2.4">1</text>
<text x="495.8" y="1365.7" font-size="22.5" fill="#ff0000" stroke="#ff0000" text-anchor="middle" letter-spacing="1">Su</text>
<text x="498.5" y="1399.3" font-size="14.3" fill="#000" stroke="#000" text-anchor="middle" font-weight="bold" letter-spacing="2.4">2</text>
<text x="601.6" y="1365.7" font-size="22.5" fill="#000" stroke="#000" text-anchor="middle" letter-spacing="1">Mo</text>
<text x="603.6" y="1399.3" font-size="14.3" fill="#000" stroke="#000" text-anchor="middle" font-weight="bold" letter-spacing="2.4">3</text>
<text x="706.5" y="1365.7" font-size="22.5" fill="#000" stroke="#000" text-anchor="middle" letter-spacing="1">Tu</text>
<text x="708.9" y="1399.3" font-size="14.3" fill="#000" stroke="#000" text-anchor="middle" font-weight="bold" letter-spacing="2.4">4</text>
<text x="811.6" y="1365.7" font-size="22.5" fill="#000" stroke="#000" text-anchor="middle" letter-spacing="1">We</text>
<text x="814.3" y="1399.3" font-size="14.3" fill="#000" stroke="#000" text-anchor="middle" font-weight="bold" letter-spacing="2.4">5</text>
<text x="916.8" y="1365.7" font-size="22.5" fill="#000" stroke="#000" text-anchor="middle" letter-spacing="1">Th</text>
<text x="919.5" y="1399.3" font-size="14.3" fill="#000" stroke="#000" text-anchor="middle" font-weight="bold" letter-spacing="2.4">6</text>
<text x="1021.5" y="1365.7" font-size="22.5" fill="#000" stroke="#000" text-anchor="middle" letter-spacing="1">Fr</text>
<text x="1025.2" y="1399.3" font-size="14.3" fill="#000" stroke="#000" text-anchor="middle" font-weight="bold" letter-spacing="2.4">7</text>
<text x="1127.4" y="1365.7" font-size="22.5" fill="#ff0000" stroke="#ff0000" text-anchor="middle" letter-spacing="1">Sa</text>
<text x="1130.3" y="1399.3" font-size="14.3" fill="#000" stroke="#000" text-anchor="middle" font-weight="bold" letter-spacing="2.4">8</text>
<text x="1.5" y="1413.6" font-size="17" fill="#ff0000" stroke="#ff0000" textLength="282.0" lengthAdjust="spacing">MARv3.14 model forced by GFS</text>
<text x="0.5" y="1434.6" font-size="17" fill="#ff0000" stroke="#ff0000" textLength="397.5" lengthAdjust="spacing">(c) Lab. of Climatology, University of Liege</text>
<text x="456.0" y="1423.7" font-size="22" fill="#000" stroke="#000" textLength="226.0" lengthAdjust="spacing">Time UTC (GMT+0h)</text>
<text x="0" y="0" font-size="21.5" fill="#000" stroke="#000" textLength="52.0" lengthAdjust="spacing" transform="translate(792.4 1423.5) scale(0.82 1)">NOV</text>
<text x="0" y="0" font-size="30" fill="#2a2aff" stroke="none" textLength="352.3" lengthAdjust="spacing" transform="translate(804.0 1427.7) scale(1.1 1)">Saint−Hubert (alt. 554m)</text>
</svg></body></html>
